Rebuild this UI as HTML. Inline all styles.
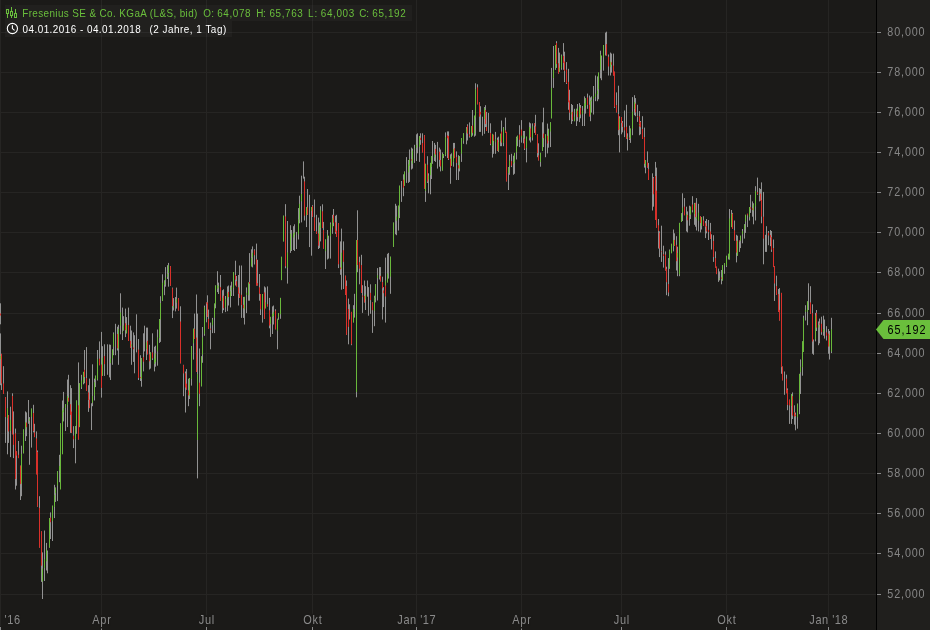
<!DOCTYPE html>
<html><head><meta charset="utf-8"><style>
html,body{margin:0;padding:0;background:#1b1a18;width:930px;height:630px;overflow:hidden}
svg{display:block}
text{font-family:"Liberation Sans",Arial,sans-serif;white-space:pre}
.xl text{font-size:12px;fill:#8a8a8a;stroke:#1b1a18;stroke-width:3px;paint-order:stroke;stroke-linejoin:round}
.yl text{font-size:12px;fill:#868686}
.leg text{font-size:11px}
</style></head><body>
<svg width="930" height="630" viewBox="0 0 930 630">
<rect width="930" height="630" fill="#1b1a18"/>
<rect x="877" y="0" width="53" height="630" fill="#201f1d"/>
<g><line x1="0" y1="32.5" x2="876" y2="32.5" stroke="#262523"/>
<line x1="0" y1="72.5" x2="876" y2="72.5" stroke="#262523"/>
<line x1="0" y1="112.5" x2="876" y2="112.5" stroke="#262523"/>
<line x1="0" y1="152.5" x2="876" y2="152.5" stroke="#262523"/>
<line x1="0" y1="192.5" x2="876" y2="192.5" stroke="#262523"/>
<line x1="0" y1="232.5" x2="876" y2="232.5" stroke="#262523"/>
<line x1="0" y1="272.5" x2="876" y2="272.5" stroke="#262523"/>
<line x1="0" y1="313.5" x2="876" y2="313.5" stroke="#262523"/>
<line x1="0" y1="353.5" x2="876" y2="353.5" stroke="#262523"/>
<line x1="0" y1="393.5" x2="876" y2="393.5" stroke="#262523"/>
<line x1="0" y1="433.5" x2="876" y2="433.5" stroke="#262523"/>
<line x1="0" y1="473.5" x2="876" y2="473.5" stroke="#262523"/>
<line x1="0" y1="513.5" x2="876" y2="513.5" stroke="#262523"/>
<line x1="0" y1="553.5" x2="876" y2="553.5" stroke="#262523"/>
<line x1="0" y1="594.5" x2="876" y2="594.5" stroke="#262523"/>
<line x1="0.5" y1="0" x2="0.5" y2="626" stroke="#262523"/>
<line x1="101.5" y1="0" x2="101.5" y2="626" stroke="#262523"/>
<line x1="206.5" y1="0" x2="206.5" y2="626" stroke="#262523"/>
<line x1="312.5" y1="0" x2="312.5" y2="626" stroke="#262523"/>
<line x1="416.5" y1="0" x2="416.5" y2="626" stroke="#262523"/>
<line x1="521.5" y1="0" x2="521.5" y2="626" stroke="#262523"/>
<line x1="621.5" y1="0" x2="621.5" y2="626" stroke="#262523"/>
<line x1="726.5" y1="0" x2="726.5" y2="626" stroke="#262523"/>
<line x1="828.5" y1="0" x2="828.5" y2="626" stroke="#262523"/></g>
<g><line x1="0.5" y1="303.3" x2="0.5" y2="324.3" stroke="#929292"/>
<line x1="0.5" y1="333.4" x2="0.5" y2="385.2" stroke="#929292"/>
<line x1="1.5" y1="353.8" x2="1.5" y2="390.0" stroke="#929292"/>
<line x1="3.5" y1="366.2" x2="3.5" y2="394.0" stroke="#929292"/>
<line x1="5.5" y1="397.1" x2="5.5" y2="442.9" stroke="#929292"/>
<line x1="7.5" y1="391.4" x2="7.5" y2="454.3" stroke="#929292"/>
<line x1="8.5" y1="415.2" x2="8.5" y2="442.9" stroke="#929292"/>
<line x1="10.5" y1="406.7" x2="10.5" y2="457.1" stroke="#929292"/>
<line x1="12.5" y1="393.3" x2="12.5" y2="434.3" stroke="#929292"/>
<line x1="13.5" y1="411.4" x2="13.5" y2="458.1" stroke="#929292"/>
<line x1="15.5" y1="428.6" x2="15.5" y2="489.5" stroke="#929292"/>
<line x1="16.5" y1="451.4" x2="16.5" y2="485.7" stroke="#929292"/>
<line x1="18.5" y1="441.0" x2="18.5" y2="458.1" stroke="#929292"/>
<line x1="20.5" y1="465.7" x2="20.5" y2="500.0" stroke="#929292"/>
<line x1="21.5" y1="445.7" x2="21.5" y2="496.2" stroke="#929292"/>
<line x1="23.5" y1="429.5" x2="23.5" y2="453.3" stroke="#929292"/>
<line x1="25.5" y1="411.4" x2="25.5" y2="441.0" stroke="#929292"/>
<line x1="26.5" y1="412.4" x2="26.5" y2="436.2" stroke="#929292"/>
<line x1="28.5" y1="400.0" x2="28.5" y2="423.8" stroke="#929292"/>
<line x1="29.5" y1="417.1" x2="29.5" y2="464.8" stroke="#929292"/>
<line x1="31.5" y1="408.6" x2="31.5" y2="447.6" stroke="#929292"/>
<line x1="33.5" y1="404.8" x2="33.5" y2="432.4" stroke="#929292"/>
<line x1="34.5" y1="423.8" x2="34.5" y2="437.1" stroke="#929292"/>
<line x1="36.5" y1="431.4" x2="36.5" y2="474.3" stroke="#929292"/>
<line x1="37.5" y1="450.5" x2="37.5" y2="506.7" stroke="#929292"/>
<line x1="39.5" y1="496.2" x2="39.5" y2="547.6" stroke="#929292"/>
<line x1="41.5" y1="531.4" x2="41.5" y2="581.9" stroke="#929292"/>
<line x1="42.5" y1="552.4" x2="42.5" y2="599.0" stroke="#929292"/>
<line x1="44.5" y1="530.5" x2="44.5" y2="581.0" stroke="#929292"/>
<line x1="46.5" y1="542.9" x2="46.5" y2="570.5" stroke="#929292"/>
<line x1="47.5" y1="550.5" x2="47.5" y2="573.3" stroke="#929292"/>
<line x1="49.5" y1="518.1" x2="49.5" y2="547.6" stroke="#929292"/>
<line x1="50.5" y1="512.4" x2="50.5" y2="539.0" stroke="#929292"/>
<line x1="52.5" y1="505.7" x2="52.5" y2="541.0" stroke="#929292"/>
<line x1="54.5" y1="484.8" x2="54.5" y2="518.1" stroke="#929292"/>
<line x1="55.5" y1="487.6" x2="55.5" y2="501.9" stroke="#929292"/>
<line x1="57.5" y1="471.2" x2="57.5" y2="501.1" stroke="#929292"/>
<line x1="59.5" y1="454.8" x2="59.5" y2="482.2" stroke="#929292"/>
<line x1="60.5" y1="423.3" x2="60.5" y2="463.3" stroke="#929292"/>
<line x1="62.5" y1="400.5" x2="62.5" y2="425.2" stroke="#929292"/>
<line x1="63.5" y1="391.9" x2="63.5" y2="421.4" stroke="#929292"/>
<line x1="65.5" y1="404.3" x2="65.5" y2="431.0" stroke="#929292"/>
<line x1="67.5" y1="379.5" x2="67.5" y2="427.1" stroke="#929292"/>
<line x1="68.5" y1="374.8" x2="68.5" y2="401.4" stroke="#929292"/>
<line x1="70.5" y1="385.2" x2="70.5" y2="432.9" stroke="#929292"/>
<line x1="71.5" y1="388.1" x2="71.5" y2="432.9" stroke="#929292"/>
<line x1="73.5" y1="426.2" x2="73.5" y2="448.1" stroke="#929292"/>
<line x1="75.5" y1="426.2" x2="75.5" y2="463.3" stroke="#929292"/>
<line x1="76.5" y1="400.5" x2="76.5" y2="433.8" stroke="#929292"/>
<line x1="78.5" y1="362.4" x2="78.5" y2="439.5" stroke="#929292"/>
<line x1="79.5" y1="383.3" x2="79.5" y2="427.1" stroke="#929292"/>
<line x1="81.5" y1="374.8" x2="81.5" y2="389.0" stroke="#929292"/>
<line x1="83.5" y1="371.9" x2="83.5" y2="384.3" stroke="#929292"/>
<line x1="84.5" y1="350.0" x2="84.5" y2="383.3" stroke="#929292"/>
<line x1="86.5" y1="347.1" x2="86.5" y2="391.0" stroke="#929292"/>
<line x1="88.5" y1="385.2" x2="88.5" y2="411.9" stroke="#929292"/>
<line x1="89.5" y1="378.6" x2="89.5" y2="408.1" stroke="#929292"/>
<line x1="91.5" y1="403.3" x2="91.5" y2="430.0" stroke="#929292"/>
<line x1="92.5" y1="364.3" x2="92.5" y2="406.2" stroke="#929292"/>
<line x1="94.5" y1="378.6" x2="94.5" y2="400.5" stroke="#929292"/>
<line x1="95.5" y1="375.7" x2="95.5" y2="387.1" stroke="#929292"/>
<line x1="97.5" y1="350.0" x2="97.5" y2="380.5" stroke="#929292"/>
<line x1="99.5" y1="341.4" x2="99.5" y2="365.2" stroke="#929292"/>
<line x1="101.5" y1="331.9" x2="101.5" y2="397.6" stroke="#929292"/>
<line x1="102.5" y1="346.2" x2="102.5" y2="375.7" stroke="#929292"/>
<line x1="104.5" y1="345.2" x2="104.5" y2="375.7" stroke="#929292"/>
<line x1="104.5" y1="344.3" x2="104.5" y2="375.7" stroke="#929292"/>
<line x1="107.5" y1="344.3" x2="107.5" y2="374.8" stroke="#929292"/>
<line x1="109.5" y1="344.5" x2="109.5" y2="377.4" stroke="#929292"/>
<line x1="110.5" y1="344.8" x2="110.5" y2="380.0" stroke="#929292"/>
<line x1="112.5" y1="349.5" x2="112.5" y2="364.8" stroke="#929292"/>
<line x1="113.5" y1="332.4" x2="113.5" y2="355.2" stroke="#929292"/>
<line x1="115.5" y1="323.8" x2="115.5" y2="355.2" stroke="#929292"/>
<line x1="117.5" y1="326.7" x2="117.5" y2="350.5" stroke="#929292"/>
<line x1="118.5" y1="324.8" x2="118.5" y2="364.8" stroke="#929292"/>
<line x1="120.5" y1="293.3" x2="120.5" y2="334.3" stroke="#929292"/>
<line x1="122.5" y1="307.6" x2="122.5" y2="340.0" stroke="#929292"/>
<line x1="123.5" y1="316.2" x2="123.5" y2="330.5" stroke="#929292"/>
<line x1="125.5" y1="308.6" x2="125.5" y2="337.1" stroke="#929292"/>
<line x1="126.5" y1="317.1" x2="126.5" y2="333.3" stroke="#929292"/>
<line x1="128.5" y1="307.6" x2="128.5" y2="341.0" stroke="#929292"/>
<line x1="130.5" y1="325.7" x2="130.5" y2="347.6" stroke="#929292"/>
<line x1="131.5" y1="330.5" x2="131.5" y2="364.8" stroke="#929292"/>
<line x1="133.5" y1="332.4" x2="133.5" y2="361.9" stroke="#929292"/>
<line x1="134.5" y1="335.2" x2="134.5" y2="373.3" stroke="#929292"/>
<line x1="136.5" y1="314.3" x2="136.5" y2="352.4" stroke="#929292"/>
<line x1="138.5" y1="339.0" x2="138.5" y2="380.0" stroke="#929292"/>
<line x1="140.5" y1="355.2" x2="140.5" y2="381.0" stroke="#929292"/>
<line x1="141.5" y1="358.1" x2="141.5" y2="386.7" stroke="#929292"/>
<line x1="143.5" y1="333.3" x2="143.5" y2="371.4" stroke="#929292"/>
<line x1="144.5" y1="325.7" x2="144.5" y2="351.4" stroke="#929292"/>
<line x1="146.5" y1="327.6" x2="146.5" y2="360.0" stroke="#929292"/>
<line x1="147.5" y1="327.6" x2="147.5" y2="354.3" stroke="#929292"/>
<line x1="149.5" y1="344.8" x2="149.5" y2="369.5" stroke="#929292"/>
<line x1="150.5" y1="352.4" x2="150.5" y2="368.6" stroke="#929292"/>
<line x1="152.5" y1="333.3" x2="152.5" y2="360.0" stroke="#929292"/>
<line x1="154.5" y1="346.7" x2="154.5" y2="371.4" stroke="#929292"/>
<line x1="155.5" y1="345.7" x2="155.5" y2="366.7" stroke="#929292"/>
<line x1="157.5" y1="329.5" x2="157.5" y2="365.7" stroke="#929292"/>
<line x1="159.5" y1="319.0" x2="159.5" y2="342.9" stroke="#929292"/>
<line x1="160.5" y1="296.2" x2="160.5" y2="341.9" stroke="#929292"/>
<line x1="162.5" y1="274.3" x2="162.5" y2="301.0" stroke="#929292"/>
<line x1="164.5" y1="280.5" x2="164.5" y2="295.2" stroke="#929292"/>
<line x1="165.5" y1="267.1" x2="165.5" y2="286.7" stroke="#929292"/>
<line x1="167.5" y1="265.2" x2="167.5" y2="279.0" stroke="#929292"/>
<line x1="168.5" y1="262.9" x2="168.5" y2="286.7" stroke="#929292"/>
<line x1="170.5" y1="266.2" x2="170.5" y2="285.7" stroke="#929292"/>
<line x1="172.5" y1="287.6" x2="172.5" y2="318.1" stroke="#929292"/>
<line x1="173.5" y1="298.1" x2="173.5" y2="310.5" stroke="#929292"/>
<line x1="175.5" y1="297.1" x2="175.5" y2="311.4" stroke="#929292"/>
<line x1="176.5" y1="287.6" x2="176.5" y2="308.6" stroke="#929292"/>
<line x1="178.5" y1="298.1" x2="178.5" y2="310.5" stroke="#929292"/>
<line x1="180.5" y1="306.7" x2="180.5" y2="361.9" stroke="#929292"/>
<line x1="180.5" y1="306.4" x2="180.5" y2="363.3" stroke="#929292"/>
<line x1="183.5" y1="364.8" x2="183.5" y2="396.2" stroke="#929292"/>
<line x1="185.5" y1="371.5" x2="185.5" y2="412.5" stroke="#929292"/>
<line x1="186.5" y1="369.0" x2="186.5" y2="389.5" stroke="#929292"/>
<line x1="188.5" y1="378.7" x2="188.5" y2="406.2" stroke="#929292"/>
<line x1="189.5" y1="378.0" x2="189.5" y2="399.0" stroke="#929292"/>
<line x1="191.5" y1="346.0" x2="191.5" y2="385.6" stroke="#929292"/>
<line x1="193.5" y1="328.7" x2="193.5" y2="359.6" stroke="#929292"/>
<line x1="194.5" y1="313.6" x2="194.5" y2="339.0" stroke="#929292"/>
<line x1="196.5" y1="294.5" x2="196.5" y2="372.0" stroke="#929292"/>
<line x1="197.5" y1="313.6" x2="197.5" y2="478.4" stroke="#929292"/>
<line x1="199.5" y1="348.5" x2="199.5" y2="406.2" stroke="#929292"/>
<line x1="201.5" y1="356.4" x2="201.5" y2="386.3" stroke="#929292"/>
<line x1="202.5" y1="327.0" x2="202.5" y2="362.8" stroke="#929292"/>
<line x1="204.5" y1="305.6" x2="204.5" y2="335.8" stroke="#929292"/>
<line x1="206.5" y1="302.5" x2="206.5" y2="322.3" stroke="#929292"/>
<line x1="207.5" y1="295.3" x2="207.5" y2="316.7" stroke="#929292"/>
<line x1="208.5" y1="309.6" x2="208.5" y2="328.7" stroke="#929292"/>
<line x1="210.5" y1="322.6" x2="210.5" y2="349.3" stroke="#929292"/>
<line x1="212.5" y1="317.9" x2="212.5" y2="333.1" stroke="#929292"/>
<line x1="214.5" y1="303.6" x2="214.5" y2="333.1" stroke="#929292"/>
<line x1="215.5" y1="285.5" x2="215.5" y2="308.3" stroke="#929292"/>
<line x1="217.5" y1="271.2" x2="217.5" y2="292.1" stroke="#929292"/>
<line x1="218.5" y1="282.6" x2="218.5" y2="294.0" stroke="#929292"/>
<line x1="220.5" y1="275.0" x2="220.5" y2="300.7" stroke="#929292"/>
<line x1="222.5" y1="290.2" x2="222.5" y2="313.1" stroke="#929292"/>
<line x1="223.5" y1="289.3" x2="223.5" y2="310.2" stroke="#929292"/>
<line x1="225.5" y1="296.0" x2="225.5" y2="312.1" stroke="#929292"/>
<line x1="227.5" y1="286.4" x2="227.5" y2="311.2" stroke="#929292"/>
<line x1="228.5" y1="285.5" x2="228.5" y2="305.5" stroke="#929292"/>
<line x1="230.5" y1="285.5" x2="230.5" y2="307.4" stroke="#929292"/>
<line x1="231.5" y1="281.7" x2="231.5" y2="296.0" stroke="#929292"/>
<line x1="233.5" y1="272.1" x2="233.5" y2="296.0" stroke="#929292"/>
<line x1="235.5" y1="260.7" x2="235.5" y2="285.5" stroke="#929292"/>
<line x1="236.5" y1="276.0" x2="236.5" y2="286.4" stroke="#929292"/>
<line x1="238.5" y1="275.0" x2="238.5" y2="305.5" stroke="#929292"/>
<line x1="239.5" y1="265.5" x2="239.5" y2="297.9" stroke="#929292"/>
<line x1="241.5" y1="265.5" x2="241.5" y2="317.9" stroke="#929292"/>
<line x1="243.5" y1="296.9" x2="243.5" y2="317.9" stroke="#929292"/>
<line x1="244.5" y1="296.9" x2="244.5" y2="324.5" stroke="#929292"/>
<line x1="246.5" y1="287.4" x2="246.5" y2="313.1" stroke="#929292"/>
<line x1="248.5" y1="282.6" x2="248.5" y2="300.7" stroke="#929292"/>
<line x1="249.5" y1="253.1" x2="249.5" y2="300.7" stroke="#929292"/>
<line x1="251.5" y1="249.3" x2="251.5" y2="266.4" stroke="#929292"/>
<line x1="252.5" y1="246.4" x2="252.5" y2="267.4" stroke="#929292"/>
<line x1="254.5" y1="249.3" x2="254.5" y2="264.5" stroke="#929292"/>
<line x1="256.5" y1="243.6" x2="256.5" y2="285.5" stroke="#929292"/>
<line x1="257.5" y1="259.8" x2="257.5" y2="285.5" stroke="#929292"/>
<line x1="259.5" y1="274.0" x2="259.5" y2="300.7" stroke="#929292"/>
<line x1="260.5" y1="294.0" x2="260.5" y2="315.0" stroke="#929292"/>
<line x1="262.5" y1="294.0" x2="262.5" y2="322.6" stroke="#929292"/>
<line x1="264.5" y1="286.4" x2="264.5" y2="318.8" stroke="#929292"/>
<line x1="265.5" y1="287.4" x2="265.5" y2="308.3" stroke="#929292"/>
<line x1="267.5" y1="286.4" x2="267.5" y2="306.4" stroke="#929292"/>
<line x1="269.5" y1="297.9" x2="269.5" y2="328.3" stroke="#929292"/>
<line x1="270.5" y1="316.9" x2="270.5" y2="336.9" stroke="#929292"/>
<line x1="272.5" y1="306.4" x2="272.5" y2="334.0" stroke="#929292"/>
<line x1="273.5" y1="305.5" x2="273.5" y2="324.5" stroke="#929292"/>
<line x1="275.5" y1="309.3" x2="275.5" y2="329.3" stroke="#929292"/>
<line x1="277.5" y1="318.8" x2="277.5" y2="349.3" stroke="#929292"/>
<line x1="278.5" y1="313.1" x2="278.5" y2="319.8" stroke="#929292"/>
<line x1="280.5" y1="297.9" x2="280.5" y2="318.8" stroke="#929292"/>
<line x1="281.5" y1="256.8" x2="281.5" y2="280.1" stroke="#929292"/>
<line x1="283.5" y1="215.7" x2="283.5" y2="241.4" stroke="#929292"/>
<line x1="285.5" y1="204.3" x2="285.5" y2="230.0" stroke="#929292"/>
<line x1="285.5" y1="204.5" x2="285.5" y2="268.3" stroke="#929292"/>
<line x1="287.5" y1="221.0" x2="287.5" y2="283.6" stroke="#929292"/>
<line x1="290.5" y1="225.2" x2="290.5" y2="252.9" stroke="#929292"/>
<line x1="291.5" y1="230.0" x2="291.5" y2="251.0" stroke="#929292"/>
<line x1="293.5" y1="226.2" x2="293.5" y2="250.0" stroke="#929292"/>
<line x1="294.5" y1="224.3" x2="294.5" y2="251.0" stroke="#929292"/>
<line x1="296.5" y1="231.9" x2="296.5" y2="249.0" stroke="#929292"/>
<line x1="298.5" y1="208.1" x2="298.5" y2="239.5" stroke="#929292"/>
<line x1="299.5" y1="195.7" x2="299.5" y2="223.3" stroke="#929292"/>
<line x1="301.5" y1="175.7" x2="301.5" y2="222.4" stroke="#929292"/>
<line x1="303.5" y1="161.4" x2="303.5" y2="178.6" stroke="#929292"/>
<line x1="304.5" y1="176.7" x2="304.5" y2="220.5" stroke="#929292"/>
<line x1="306.5" y1="207.1" x2="306.5" y2="227.1" stroke="#929292"/>
<line x1="307.5" y1="189.0" x2="307.5" y2="214.8" stroke="#929292"/>
<line x1="309.5" y1="194.8" x2="309.5" y2="247.1" stroke="#929292"/>
<line x1="311.5" y1="207.1" x2="311.5" y2="255.7" stroke="#929292"/>
<line x1="312.5" y1="205.2" x2="312.5" y2="216.7" stroke="#929292"/>
<line x1="314.5" y1="199.5" x2="314.5" y2="231.0" stroke="#929292"/>
<line x1="316.5" y1="214.8" x2="316.5" y2="233.8" stroke="#929292"/>
<line x1="318.5" y1="217.6" x2="318.5" y2="249.0" stroke="#929292"/>
<line x1="319.5" y1="222.4" x2="319.5" y2="248.1" stroke="#929292"/>
<line x1="320.5" y1="206.2" x2="320.5" y2="241.4" stroke="#929292"/>
<line x1="322.5" y1="204.3" x2="322.5" y2="228.1" stroke="#929292"/>
<line x1="323.5" y1="221.9" x2="323.5" y2="248.6" stroke="#929292"/>
<line x1="325.5" y1="239.5" x2="325.5" y2="269.0" stroke="#929292"/>
<line x1="327.5" y1="230.0" x2="327.5" y2="259.5" stroke="#929292"/>
<line x1="328.5" y1="235.7" x2="328.5" y2="258.6" stroke="#929292"/>
<line x1="330.5" y1="222.4" x2="330.5" y2="258.6" stroke="#929292"/>
<line x1="332.5" y1="214.8" x2="332.5" y2="233.8" stroke="#929292"/>
<line x1="333.5" y1="209.0" x2="333.5" y2="226.2" stroke="#929292"/>
<line x1="335.5" y1="215.7" x2="335.5" y2="233.8" stroke="#929292"/>
<line x1="336.5" y1="214.8" x2="336.5" y2="236.7" stroke="#929292"/>
<line x1="338.5" y1="223.3" x2="338.5" y2="268.1" stroke="#929292"/>
<line x1="340.5" y1="241.4" x2="340.5" y2="274.8" stroke="#929292"/>
<line x1="341.5" y1="228.6" x2="341.5" y2="289.7" stroke="#929292"/>
<line x1="343.5" y1="241.4" x2="343.5" y2="289.0" stroke="#929292"/>
<line x1="345.5" y1="275.7" x2="345.5" y2="294.8" stroke="#929292"/>
<line x1="346.5" y1="280.5" x2="346.5" y2="334.8" stroke="#929292"/>
<line x1="348.5" y1="298.6" x2="348.5" y2="344.3" stroke="#929292"/>
<line x1="349.5" y1="304.3" x2="349.5" y2="319.5" stroke="#929292"/>
<line x1="351.5" y1="311.9" x2="351.5" y2="345.2" stroke="#929292"/>
<line x1="353.5" y1="305.2" x2="353.5" y2="322.4" stroke="#929292"/>
<line x1="354.5" y1="293.8" x2="354.5" y2="317.6" stroke="#929292"/>
<line x1="356.5" y1="240.0" x2="356.5" y2="397.3" stroke="#929292"/>
<line x1="357.5" y1="210.3" x2="357.5" y2="272.2" stroke="#929292"/>
<line x1="359.5" y1="256.7" x2="359.5" y2="284.3" stroke="#929292"/>
<line x1="361.5" y1="254.8" x2="361.5" y2="292.9" stroke="#929292"/>
<line x1="362.5" y1="285.2" x2="362.5" y2="312.9" stroke="#929292"/>
<line x1="364.5" y1="280.5" x2="364.5" y2="302.4" stroke="#929292"/>
<line x1="365.5" y1="286.2" x2="365.5" y2="310.0" stroke="#929292"/>
<line x1="367.5" y1="280.5" x2="367.5" y2="296.7" stroke="#929292"/>
<line x1="368.5" y1="287.1" x2="368.5" y2="315.7" stroke="#929292"/>
<line x1="370.5" y1="284.3" x2="370.5" y2="313.8" stroke="#929292"/>
<line x1="372.5" y1="302.4" x2="372.5" y2="332.9" stroke="#929292"/>
<line x1="374.5" y1="295.7" x2="374.5" y2="326.2" stroke="#929292"/>
<line x1="375.5" y1="284.3" x2="375.5" y2="302.4" stroke="#929292"/>
<line x1="377.5" y1="268.1" x2="377.5" y2="300.5" stroke="#929292"/>
<line x1="379.5" y1="267.1" x2="379.5" y2="279.5" stroke="#929292"/>
<line x1="380.5" y1="267.1" x2="380.5" y2="281.4" stroke="#929292"/>
<line x1="382.5" y1="276.7" x2="382.5" y2="319.5" stroke="#929292"/>
<line x1="383.5" y1="287.1" x2="383.5" y2="307.1" stroke="#929292"/>
<line x1="385.5" y1="272.4" x2="385.5" y2="322.3" stroke="#929292"/>
<line x1="385.5" y1="257.6" x2="385.5" y2="322.4" stroke="#929292"/>
<line x1="387.5" y1="253.8" x2="387.5" y2="282.4" stroke="#929292"/>
<line x1="388.5" y1="252.9" x2="388.5" y2="278.6" stroke="#929292"/>
<line x1="390.5" y1="256.7" x2="390.5" y2="293.8" stroke="#929292"/>
<line x1="393.5" y1="222.6" x2="393.5" y2="246.8" stroke="#929292"/>
<line x1="395.5" y1="203.8" x2="395.5" y2="234.3" stroke="#929292"/>
<line x1="396.5" y1="205.7" x2="396.5" y2="235.2" stroke="#929292"/>
<line x1="398.5" y1="205.7" x2="398.5" y2="230.5" stroke="#929292"/>
<line x1="399.5" y1="185.7" x2="399.5" y2="218.1" stroke="#929292"/>
<line x1="401.5" y1="181.0" x2="401.5" y2="201.9" stroke="#929292"/>
<line x1="403.5" y1="174.3" x2="403.5" y2="196.2" stroke="#929292"/>
<line x1="404.5" y1="171.4" x2="404.5" y2="185.7" stroke="#929292"/>
<line x1="406.5" y1="157.1" x2="406.5" y2="182.9" stroke="#929292"/>
<line x1="408.5" y1="160.0" x2="408.5" y2="182.9" stroke="#929292"/>
<line x1="409.5" y1="149.5" x2="409.5" y2="181.9" stroke="#929292"/>
<line x1="411.5" y1="147.6" x2="411.5" y2="169.5" stroke="#929292"/>
<line x1="412.5" y1="148.6" x2="412.5" y2="168.6" stroke="#929292"/>
<line x1="414.5" y1="144.8" x2="414.5" y2="162.9" stroke="#929292"/>
<line x1="416.5" y1="134.3" x2="416.5" y2="161.0" stroke="#929292"/>
<line x1="417.5" y1="133.3" x2="417.5" y2="153.3" stroke="#929292"/>
<line x1="419.5" y1="136.2" x2="419.5" y2="161.9" stroke="#929292"/>
<line x1="420.5" y1="133.3" x2="420.5" y2="144.8" stroke="#929292"/>
<line x1="422.5" y1="133.3" x2="422.5" y2="152.4" stroke="#929292"/>
<line x1="424.5" y1="135.2" x2="424.5" y2="188.6" stroke="#929292"/>
<line x1="425.5" y1="163.8" x2="425.5" y2="201.9" stroke="#929292"/>
<line x1="427.5" y1="156.2" x2="427.5" y2="182.9" stroke="#929292"/>
<line x1="428.5" y1="173.3" x2="428.5" y2="193.3" stroke="#929292"/>
<line x1="430.5" y1="162.9" x2="430.5" y2="194.3" stroke="#929292"/>
<line x1="431.5" y1="156.2" x2="431.5" y2="179.0" stroke="#929292"/>
<line x1="432.5" y1="141.0" x2="432.5" y2="163.8" stroke="#929292"/>
<line x1="434.5" y1="142.9" x2="434.5" y2="161.0" stroke="#929292"/>
<line x1="435.5" y1="144.8" x2="435.5" y2="161.9" stroke="#929292"/>
<line x1="437.5" y1="141.9" x2="437.5" y2="168.6" stroke="#929292"/>
<line x1="439.5" y1="147.6" x2="439.5" y2="166.7" stroke="#929292"/>
<line x1="440.5" y1="149.5" x2="440.5" y2="171.4" stroke="#929292"/>
<line x1="442.5" y1="152.4" x2="442.5" y2="170.5" stroke="#929292"/>
<line x1="443.5" y1="154.3" x2="443.5" y2="158.1" stroke="#929292"/>
<line x1="445.5" y1="132.4" x2="445.5" y2="156.2" stroke="#929292"/>
<line x1="447.5" y1="131.4" x2="447.5" y2="158.1" stroke="#929292"/>
<line x1="448.5" y1="131.4" x2="448.5" y2="160.0" stroke="#929292"/>
<line x1="450.5" y1="154.3" x2="450.5" y2="183.8" stroke="#929292"/>
<line x1="451.5" y1="153.3" x2="451.5" y2="165.7" stroke="#929292"/>
<line x1="453.5" y1="142.9" x2="453.5" y2="166.7" stroke="#929292"/>
<line x1="454.5" y1="142.9" x2="454.5" y2="158.1" stroke="#929292"/>
<line x1="456.5" y1="151.4" x2="456.5" y2="180.0" stroke="#929292"/>
<line x1="458.5" y1="155.2" x2="458.5" y2="180.0" stroke="#929292"/>
<line x1="459.5" y1="156.2" x2="459.5" y2="171.4" stroke="#929292"/>
<line x1="461.5" y1="138.1" x2="461.5" y2="161.9" stroke="#929292"/>
<line x1="463.5" y1="133.3" x2="463.5" y2="143.8" stroke="#929292"/>
<line x1="466.5" y1="127.1" x2="466.5" y2="144.3" stroke="#929292"/>
<line x1="467.5" y1="124.3" x2="467.5" y2="140.5" stroke="#929292"/>
<line x1="469.5" y1="122.4" x2="469.5" y2="137.6" stroke="#929292"/>
<line x1="471.5" y1="126.2" x2="471.5" y2="136.7" stroke="#929292"/>
<line x1="472.5" y1="110.0" x2="472.5" y2="135.7" stroke="#929292"/>
<line x1="474.5" y1="115.7" x2="474.5" y2="136.7" stroke="#929292"/>
<line x1="475.5" y1="83.3" x2="475.5" y2="135.7" stroke="#929292"/>
<line x1="477.5" y1="84.3" x2="477.5" y2="104.3" stroke="#929292"/>
<line x1="479.5" y1="102.4" x2="479.5" y2="131.9" stroke="#929292"/>
<line x1="480.5" y1="106.2" x2="480.5" y2="131.9" stroke="#929292"/>
<line x1="482.5" y1="116.7" x2="482.5" y2="135.7" stroke="#929292"/>
<line x1="484.5" y1="107.1" x2="484.5" y2="133.8" stroke="#929292"/>
<line x1="485.5" y1="105.2" x2="485.5" y2="127.1" stroke="#929292"/>
<line x1="486.5" y1="111.9" x2="486.5" y2="131.0" stroke="#929292"/>
<line x1="488.5" y1="112.9" x2="488.5" y2="132.9" stroke="#929292"/>
<line x1="490.5" y1="123.3" x2="490.5" y2="145.2" stroke="#929292"/>
<line x1="492.5" y1="133.8" x2="492.5" y2="157.6" stroke="#929292"/>
<line x1="493.5" y1="134.8" x2="493.5" y2="153.8" stroke="#929292"/>
<line x1="495.5" y1="131.9" x2="495.5" y2="153.8" stroke="#929292"/>
<line x1="497.5" y1="137.6" x2="497.5" y2="151.0" stroke="#929292"/>
<line x1="498.5" y1="136.7" x2="498.5" y2="151.9" stroke="#929292"/>
<line x1="500.5" y1="133.8" x2="500.5" y2="146.2" stroke="#929292"/>
<line x1="501.5" y1="120.5" x2="501.5" y2="146.2" stroke="#929292"/>
<line x1="503.5" y1="127.1" x2="503.5" y2="146.2" stroke="#929292"/>
<line x1="505.5" y1="117.6" x2="505.5" y2="132.9" stroke="#929292"/>
<line x1="506.5" y1="131.9" x2="506.5" y2="181.4" stroke="#929292"/>
<line x1="508.5" y1="167.1" x2="508.5" y2="190.0" stroke="#929292"/>
<line x1="509.5" y1="154.8" x2="509.5" y2="174.8" stroke="#929292"/>
<line x1="511.5" y1="153.8" x2="511.5" y2="167.1" stroke="#929292"/>
<line x1="513.5" y1="155.7" x2="513.5" y2="174.8" stroke="#929292"/>
<line x1="514.5" y1="152.9" x2="514.5" y2="173.8" stroke="#929292"/>
<line x1="516.5" y1="136.7" x2="516.5" y2="159.5" stroke="#929292"/>
<line x1="517.5" y1="135.7" x2="517.5" y2="146.2" stroke="#929292"/>
<line x1="519.5" y1="125.2" x2="519.5" y2="147.1" stroke="#929292"/>
<line x1="521.5" y1="120.2" x2="521.5" y2="142.7" stroke="#929292"/>
<line x1="521.5" y1="120.5" x2="521.5" y2="135.7" stroke="#929292"/>
<line x1="523.5" y1="131.0" x2="523.5" y2="143.3" stroke="#929292"/>
<line x1="524.5" y1="131.0" x2="524.5" y2="150.0" stroke="#929292"/>
<line x1="526.5" y1="136.7" x2="526.5" y2="162.4" stroke="#929292"/>
<line x1="529.5" y1="122.4" x2="529.5" y2="140.5" stroke="#929292"/>
<line x1="530.5" y1="123.3" x2="530.5" y2="142.4" stroke="#929292"/>
<line x1="532.5" y1="123.3" x2="532.5" y2="140.5" stroke="#929292"/>
<line x1="534.5" y1="123.3" x2="534.5" y2="132.9" stroke="#929292"/>
<line x1="535.5" y1="114.8" x2="535.5" y2="134.8" stroke="#929292"/>
<line x1="537.5" y1="134.4" x2="537.5" y2="157.2" stroke="#929292"/>
<line x1="538.5" y1="143.3" x2="538.5" y2="160.4" stroke="#929292"/>
<line x1="540.5" y1="152.8" x2="540.5" y2="166.7" stroke="#929292"/>
<line x1="542.5" y1="122.3" x2="542.5" y2="150.9" stroke="#929292"/>
<line x1="543.5" y1="107.7" x2="543.5" y2="147.1" stroke="#929292"/>
<line x1="545.5" y1="134.4" x2="545.5" y2="157.2" stroke="#929292"/>
<line x1="547.5" y1="123.6" x2="547.5" y2="153.4" stroke="#929292"/>
<line x1="548.5" y1="128.7" x2="548.5" y2="147.7" stroke="#929292"/>
<line x1="550.5" y1="122.3" x2="550.5" y2="147.1" stroke="#929292"/>
<line x1="551.5" y1="67.9" x2="551.5" y2="118.3" stroke="#929292"/>
<line x1="553.5" y1="46.0" x2="553.5" y2="87.9" stroke="#929292"/>
<line x1="555.5" y1="45.0" x2="555.5" y2="69.8" stroke="#929292"/>
<line x1="556.5" y1="41.2" x2="556.5" y2="67.9" stroke="#929292"/>
<line x1="558.5" y1="47.9" x2="558.5" y2="73.6" stroke="#929292"/>
<line x1="559.5" y1="52.6" x2="559.5" y2="71.7" stroke="#929292"/>
<line x1="561.5" y1="54.5" x2="561.5" y2="69.8" stroke="#929292"/>
<line x1="563.5" y1="43.1" x2="563.5" y2="69.8" stroke="#929292"/>
<line x1="564.5" y1="51.7" x2="564.5" y2="82.1" stroke="#929292"/>
<line x1="566.5" y1="62.1" x2="566.5" y2="84.0" stroke="#929292"/>
<line x1="568.5" y1="68.8" x2="568.5" y2="109.8" stroke="#929292"/>
<line x1="569.5" y1="89.8" x2="569.5" y2="120.2" stroke="#929292"/>
<line x1="571.5" y1="104.0" x2="571.5" y2="124.0" stroke="#929292"/>
<line x1="572.5" y1="105.0" x2="572.5" y2="121.2" stroke="#929292"/>
<line x1="574.5" y1="108.8" x2="574.5" y2="121.2" stroke="#929292"/>
<line x1="576.5" y1="108.8" x2="576.5" y2="126.0" stroke="#929292"/>
<line x1="577.5" y1="104.0" x2="577.5" y2="121.2" stroke="#929292"/>
<line x1="579.5" y1="103.1" x2="579.5" y2="122.1" stroke="#929292"/>
<line x1="580.5" y1="105.0" x2="580.5" y2="118.3" stroke="#929292"/>
<line x1="582.5" y1="106.0" x2="582.5" y2="126.0" stroke="#929292"/>
<line x1="584.5" y1="96.4" x2="584.5" y2="126.0" stroke="#929292"/>
<line x1="585.5" y1="98.3" x2="585.5" y2="113.6" stroke="#929292"/>
<line x1="587.5" y1="93.6" x2="587.5" y2="108.8" stroke="#929292"/>
<line x1="589.5" y1="95.5" x2="589.5" y2="116.4" stroke="#929292"/>
<line x1="590.5" y1="97.4" x2="590.5" y2="121.2" stroke="#929292"/>
<line x1="591.5" y1="96.4" x2="591.5" y2="112.6" stroke="#929292"/>
<line x1="593.5" y1="86.0" x2="593.5" y2="114.5" stroke="#929292"/>
<line x1="595.5" y1="75.5" x2="595.5" y2="101.2" stroke="#929292"/>
<line x1="597.5" y1="76.4" x2="597.5" y2="101.2" stroke="#929292"/>
<line x1="598.5" y1="72.6" x2="598.5" y2="99.3" stroke="#929292"/>
<line x1="600.5" y1="50.7" x2="600.5" y2="78.3" stroke="#929292"/>
<line x1="601.5" y1="55.5" x2="601.5" y2="80.2" stroke="#929292"/>
<line x1="603.5" y1="45.0" x2="603.5" y2="70.7" stroke="#929292"/>
<line x1="605.5" y1="32.6" x2="605.5" y2="55.5" stroke="#929292"/>
<line x1="606.5" y1="31.7" x2="606.5" y2="55.5" stroke="#929292"/>
<line x1="608.5" y1="54.5" x2="608.5" y2="75.5" stroke="#929292"/>
<line x1="610.5" y1="52.6" x2="610.5" y2="75.5" stroke="#929292"/>
<line x1="611.5" y1="53.6" x2="611.5" y2="72.6" stroke="#929292"/>
<line x1="613.5" y1="53.6" x2="613.5" y2="75.5" stroke="#929292"/>
<line x1="614.5" y1="71.7" x2="614.5" y2="107.9" stroke="#929292"/>
<line x1="616.5" y1="92.4" x2="616.5" y2="112.4" stroke="#929292"/>
<line x1="618.5" y1="85.7" x2="618.5" y2="135.2" stroke="#929292"/>
<line x1="619.5" y1="116.2" x2="619.5" y2="152.4" stroke="#929292"/>
<line x1="621.5" y1="117.1" x2="621.5" y2="134.3" stroke="#929292"/>
<line x1="622.5" y1="121.0" x2="622.5" y2="132.4" stroke="#929292"/>
<line x1="624.5" y1="110.5" x2="624.5" y2="137.1" stroke="#929292"/>
<line x1="626.5" y1="104.8" x2="626.5" y2="139.0" stroke="#929292"/>
<line x1="627.5" y1="133.3" x2="627.5" y2="150.5" stroke="#929292"/>
<line x1="629.5" y1="125.7" x2="629.5" y2="140.0" stroke="#929292"/>
<line x1="630.5" y1="128.6" x2="630.5" y2="142.9" stroke="#929292"/>
<line x1="632.5" y1="97.1" x2="632.5" y2="135.2" stroke="#929292"/>
<line x1="634.5" y1="95.2" x2="634.5" y2="115.2" stroke="#929292"/>
<line x1="635.5" y1="98.1" x2="635.5" y2="116.2" stroke="#929292"/>
<line x1="637.5" y1="104.8" x2="637.5" y2="121.9" stroke="#929292"/>
<line x1="639.5" y1="111.3" x2="639.5" y2="128.6" stroke="#929292"/>
<line x1="639.5" y1="111.4" x2="639.5" y2="135.2" stroke="#929292"/>
<line x1="640.5" y1="121.0" x2="640.5" y2="134.3" stroke="#929292"/>
<line x1="642.5" y1="116.2" x2="642.5" y2="139.0" stroke="#929292"/>
<line x1="644.5" y1="127.6" x2="644.5" y2="167.6" stroke="#929292"/>
<line x1="645.5" y1="160.0" x2="645.5" y2="173.3" stroke="#929292"/>
<line x1="647.5" y1="151.4" x2="647.5" y2="167.6" stroke="#929292"/>
<line x1="648.5" y1="162.9" x2="648.5" y2="180.0" stroke="#929292"/>
<line x1="652.5" y1="173.3" x2="652.5" y2="210.5" stroke="#929292"/>
<line x1="653.5" y1="177.1" x2="653.5" y2="206.7" stroke="#929292"/>
<line x1="655.5" y1="161.9" x2="655.5" y2="220.0" stroke="#929292"/>
<line x1="656.5" y1="167.6" x2="656.5" y2="227.6" stroke="#929292"/>
<line x1="658.5" y1="219.0" x2="658.5" y2="248.6" stroke="#929292"/>
<line x1="659.5" y1="231.4" x2="659.5" y2="257.1" stroke="#929292"/>
<line x1="661.5" y1="225.7" x2="661.5" y2="261.9" stroke="#929292"/>
<line x1="663.5" y1="245.7" x2="663.5" y2="267.6" stroke="#929292"/>
<line x1="665.5" y1="251.4" x2="665.5" y2="270.5" stroke="#929292"/>
<line x1="666.5" y1="266.7" x2="666.5" y2="295.2" stroke="#929292"/>
<line x1="668.5" y1="258.1" x2="668.5" y2="296.2" stroke="#929292"/>
<line x1="669.5" y1="249.5" x2="669.5" y2="268.6" stroke="#929292"/>
<line x1="671.5" y1="243.8" x2="671.5" y2="253.3" stroke="#929292"/>
<line x1="673.5" y1="229.5" x2="673.5" y2="251.4" stroke="#929292"/>
<line x1="674.5" y1="233.3" x2="674.5" y2="245.7" stroke="#929292"/>
<line x1="676.5" y1="236.2" x2="676.5" y2="270.5" stroke="#929292"/>
<line x1="677.5" y1="246.7" x2="677.5" y2="276.2" stroke="#929292"/>
<line x1="679.5" y1="222.9" x2="679.5" y2="276.2" stroke="#929292"/>
<line x1="681.5" y1="213.3" x2="681.5" y2="221.9" stroke="#929292"/>
<line x1="682.5" y1="193.3" x2="682.5" y2="221.0" stroke="#929292"/>
<line x1="684.5" y1="198.1" x2="684.5" y2="215.2" stroke="#929292"/>
<line x1="686.5" y1="206.7" x2="686.5" y2="231.4" stroke="#929292"/>
<line x1="687.5" y1="211.4" x2="687.5" y2="232.4" stroke="#929292"/>
<line x1="689.5" y1="205.7" x2="689.5" y2="225.7" stroke="#929292"/>
<line x1="690.5" y1="206.7" x2="690.5" y2="219.0" stroke="#929292"/>
<line x1="692.5" y1="196.2" x2="692.5" y2="212.4" stroke="#929292"/>
<line x1="694.5" y1="202.9" x2="694.5" y2="224.8" stroke="#929292"/>
<line x1="695.5" y1="202.9" x2="695.5" y2="226.7" stroke="#929292"/>
<line x1="696.5" y1="198.1" x2="696.5" y2="230.5" stroke="#929292"/>
<line x1="698.5" y1="203.8" x2="698.5" y2="231.4" stroke="#929292"/>
<line x1="700.5" y1="216.2" x2="700.5" y2="232.4" stroke="#929292"/>
<line x1="701.5" y1="217.1" x2="701.5" y2="229.5" stroke="#929292"/>
<line x1="703.5" y1="216.2" x2="703.5" y2="225.7" stroke="#929292"/>
<line x1="705.5" y1="221.0" x2="705.5" y2="238.1" stroke="#929292"/>
<line x1="706.5" y1="219.0" x2="706.5" y2="233.3" stroke="#929292"/>
<line x1="708.5" y1="220.0" x2="708.5" y2="240.0" stroke="#929292"/>
<line x1="710.5" y1="222.9" x2="710.5" y2="239.0" stroke="#929292"/>
<line x1="711.5" y1="234.3" x2="711.5" y2="249.5" stroke="#929292"/>
<line x1="713.5" y1="235.2" x2="713.5" y2="261.9" stroke="#929292"/>
<line x1="715.5" y1="251.4" x2="715.5" y2="267.6" stroke="#929292"/>
<line x1="716.5" y1="266.7" x2="716.5" y2="274.1" stroke="#929292"/>
<line x1="718.5" y1="268.6" x2="718.5" y2="281.9" stroke="#929292"/>
<line x1="719.5" y1="271.4" x2="719.5" y2="280.4" stroke="#929292"/>
<line x1="721.5" y1="270.0" x2="721.5" y2="284.3" stroke="#929292"/>
<line x1="722.5" y1="265.2" x2="722.5" y2="280.5" stroke="#929292"/>
<line x1="724.5" y1="263.3" x2="724.5" y2="273.8" stroke="#929292"/>
<line x1="726.5" y1="255.7" x2="726.5" y2="267.1" stroke="#929292"/>
<line x1="728.5" y1="253.8" x2="728.5" y2="259.5" stroke="#929292"/>
<line x1="729.5" y1="209.0" x2="729.5" y2="259.5" stroke="#929292"/>
<line x1="731.5" y1="210.0" x2="731.5" y2="227.1" stroke="#929292"/>
<line x1="732.5" y1="212.9" x2="732.5" y2="229.0" stroke="#929292"/>
<line x1="734.5" y1="220.5" x2="734.5" y2="240.5" stroke="#929292"/>
<line x1="736.5" y1="234.8" x2="736.5" y2="262.4" stroke="#929292"/>
<line x1="737.5" y1="235.7" x2="737.5" y2="255.7" stroke="#929292"/>
<line x1="739.5" y1="240.5" x2="739.5" y2="251.9" stroke="#929292"/>
<line x1="740.5" y1="235.7" x2="740.5" y2="248.1" stroke="#929292"/>
<line x1="742.5" y1="229.0" x2="742.5" y2="243.3" stroke="#929292"/>
<line x1="744.5" y1="224.3" x2="744.5" y2="238.6" stroke="#929292"/>
<line x1="745.5" y1="214.8" x2="745.5" y2="232.9" stroke="#929292"/>
<line x1="747.5" y1="213.8" x2="747.5" y2="227.1" stroke="#929292"/>
<line x1="749.5" y1="207.1" x2="749.5" y2="220.5" stroke="#929292"/>
<line x1="750.5" y1="194.8" x2="750.5" y2="212.9" stroke="#929292"/>
<line x1="752.5" y1="201.4" x2="752.5" y2="216.7" stroke="#929292"/>
<line x1="753.5" y1="203.3" x2="753.5" y2="224.3" stroke="#929292"/>
<line x1="755.5" y1="186.2" x2="755.5" y2="220.5" stroke="#929292"/>
<line x1="757.5" y1="177.6" x2="757.5" y2="194.8" stroke="#929292"/>
<line x1="759.5" y1="188.1" x2="759.5" y2="201.4" stroke="#929292"/>
<line x1="760.5" y1="189.0" x2="760.5" y2="200.5" stroke="#929292"/>
<line x1="761.5" y1="182.4" x2="761.5" y2="223.3" stroke="#929292"/>
<line x1="763.5" y1="191.9" x2="763.5" y2="264.3" stroke="#929292"/>
<line x1="765.5" y1="234.8" x2="765.5" y2="251.9" stroke="#929292"/>
<line x1="766.5" y1="226.2" x2="766.5" y2="251.9" stroke="#929292"/>
<line x1="768.5" y1="231.0" x2="768.5" y2="245.2" stroke="#929292"/>
<line x1="770.5" y1="230.0" x2="770.5" y2="246.2" stroke="#929292"/>
<line x1="771.5" y1="231.0" x2="771.5" y2="251.9" stroke="#929292"/>
<line x1="773.5" y1="239.5" x2="773.5" y2="267.1" stroke="#929292"/>
<line x1="774.5" y1="266.2" x2="774.5" y2="301.0" stroke="#929292"/>
<line x1="776.5" y1="275.7" x2="776.5" y2="294.8" stroke="#929292"/>
<line x1="778.5" y1="289.0" x2="778.5" y2="311.9" stroke="#929292"/>
<line x1="779.5" y1="288.1" x2="779.5" y2="320.5" stroke="#929292"/>
<line x1="781.5" y1="292.9" x2="781.5" y2="373.8" stroke="#929292"/>
<line x1="782.5" y1="366.6" x2="782.5" y2="380.3" stroke="#929292"/>
<line x1="784.5" y1="371.5" x2="784.5" y2="394.8" stroke="#929292"/>
<line x1="786.5" y1="374.7" x2="786.5" y2="393.2" stroke="#929292"/>
<line x1="787.5" y1="388.4" x2="787.5" y2="410.2" stroke="#929292"/>
<line x1="789.5" y1="399.7" x2="789.5" y2="423.9" stroke="#929292"/>
<line x1="791.5" y1="394.0" x2="791.5" y2="423.9" stroke="#929292"/>
<line x1="792.5" y1="392.4" x2="792.5" y2="419.0" stroke="#929292"/>
<line x1="794.5" y1="405.3" x2="794.5" y2="424.7" stroke="#929292"/>
<line x1="795.5" y1="412.6" x2="795.5" y2="430.3" stroke="#929292"/>
<line x1="797.5" y1="403.7" x2="797.5" y2="428.7" stroke="#929292"/>
<line x1="799.5" y1="373.9" x2="799.5" y2="414.2" stroke="#929292"/>
<line x1="800.5" y1="359.4" x2="800.5" y2="394.0" stroke="#929292"/>
<line x1="802.5" y1="341.4" x2="802.5" y2="375.7" stroke="#929292"/>
<line x1="803.5" y1="315.7" x2="803.5" y2="351.9" stroke="#929292"/>
<line x1="805.5" y1="305.2" x2="805.5" y2="320.5" stroke="#929292"/>
<line x1="807.5" y1="301.4" x2="807.5" y2="325.2" stroke="#929292"/>
<line x1="808.5" y1="283.3" x2="808.5" y2="310.0" stroke="#929292"/>
<line x1="810.5" y1="286.2" x2="810.5" y2="313.8" stroke="#929292"/>
<line x1="812.5" y1="304.3" x2="812.5" y2="353.8" stroke="#929292"/>
<line x1="813.5" y1="339.5" x2="813.5" y2="354.8" stroke="#929292"/>
<line x1="815.5" y1="312.9" x2="815.5" y2="341.4" stroke="#929292"/>
<line x1="816.5" y1="310.0" x2="816.5" y2="331.0" stroke="#929292"/>
<line x1="818.5" y1="321.4" x2="818.5" y2="345.2" stroke="#929292"/>
<line x1="819.5" y1="318.6" x2="819.5" y2="343.3" stroke="#929292"/>
<line x1="821.5" y1="316.7" x2="821.5" y2="334.8" stroke="#929292"/>
<line x1="823.5" y1="315.7" x2="823.5" y2="335.7" stroke="#929292"/>
<line x1="824.5" y1="319.5" x2="824.5" y2="338.6" stroke="#929292"/>
<line x1="826.5" y1="326.2" x2="826.5" y2="340.5" stroke="#929292"/>
<line x1="828.5" y1="329.0" x2="828.5" y2="353.8" stroke="#929292"/>
<line x1="829.5" y1="331.0" x2="829.5" y2="359.5" stroke="#929292"/>
<line x1="831.5" y1="317.8" x2="831.5" y2="353.1" stroke="#929292"/>
<line x1="0.5" y1="356.0" x2="0.5" y2="359.3" stroke="#69b83b"/>
<line x1="1.5" y1="353.9" x2="1.5" y2="383.5" stroke="#d9302a"/>
<line x1="3.5" y1="383.4" x2="3.5" y2="394.0" stroke="#d9302a"/>
<line x1="5.5" y1="397.1" x2="5.5" y2="417.0" stroke="#d9302a"/>
<line x1="7.5" y1="408.2" x2="7.5" y2="418.2" stroke="#69b83b"/>
<line x1="8.5" y1="415.2" x2="8.5" y2="431.5" stroke="#d9302a"/>
<line x1="10.5" y1="419.8" x2="10.5" y2="430.8" stroke="#69b83b"/>
<line x1="12.5" y1="396.0" x2="12.5" y2="434.3" stroke="#d9302a"/>
<line x1="13.5" y1="434.3" x2="13.5" y2="444.9" stroke="#d9302a"/>
<line x1="15.5" y1="433.3" x2="15.5" y2="479.0" stroke="#d9302a"/>
<line x1="16.5" y1="451.4" x2="16.5" y2="455.6" stroke="#d9302a"/>
<line x1="18.5" y1="454.8" x2="18.5" y2="458.1" stroke="#d9302a"/>
<line x1="20.5" y1="465.7" x2="20.5" y2="484.1" stroke="#d9302a"/>
<line x1="21.5" y1="453.8" x2="21.5" y2="483.6" stroke="#69b83b"/>
<line x1="23.5" y1="429.5" x2="23.5" y2="453.3" stroke="#69b83b"/>
<line x1="25.5" y1="422.3" x2="25.5" y2="429.4" stroke="#69b83b"/>
<line x1="26.5" y1="422.6" x2="26.5" y2="427.2" stroke="#d9302a"/>
<line x1="29.5" y1="418.8" x2="29.5" y2="421.0" stroke="#69b83b"/>
<line x1="31.5" y1="408.6" x2="31.5" y2="416.8" stroke="#69b83b"/>
<line x1="33.5" y1="413.0" x2="33.5" y2="431.1" stroke="#d9302a"/>
<line x1="34.5" y1="432.4" x2="34.5" y2="437.1" stroke="#d9302a"/>
<line x1="36.5" y1="438.4" x2="36.5" y2="474.3" stroke="#d9302a"/>
<line x1="37.5" y1="452.0" x2="37.5" y2="506.7" stroke="#d9302a"/>
<line x1="39.5" y1="507.8" x2="39.5" y2="547.6" stroke="#d9302a"/>
<line x1="41.5" y1="531.4" x2="41.5" y2="565.7" stroke="#d9302a"/>
<line x1="42.5" y1="568.5" x2="42.5" y2="581.4" stroke="#69b83b"/>
<line x1="44.5" y1="559.3" x2="44.5" y2="568.1" stroke="#69b83b"/>
<line x1="46.5" y1="549.5" x2="46.5" y2="561.3" stroke="#69b83b"/>
<line x1="49.5" y1="518.1" x2="49.5" y2="547.6" stroke="#69b83b"/>
<line x1="50.5" y1="517.6" x2="50.5" y2="522.2" stroke="#d9302a"/>
<line x1="52.5" y1="505.7" x2="52.5" y2="521.1" stroke="#69b83b"/>
<line x1="54.5" y1="494.8" x2="54.5" y2="506.9" stroke="#69b83b"/>
<line x1="55.5" y1="487.6" x2="55.5" y2="493.3" stroke="#69b83b"/>
<line x1="57.5" y1="471.2" x2="57.5" y2="485.5" stroke="#69b83b"/>
<line x1="59.5" y1="465.9" x2="59.5" y2="470.6" stroke="#69b83b"/>
<line x1="60.5" y1="423.8" x2="60.5" y2="489.5" stroke="#69b83b"/>
<line x1="62.5" y1="410.5" x2="62.5" y2="454.3" stroke="#69b83b"/>
<line x1="63.5" y1="407.9" x2="63.5" y2="412.2" stroke="#69b83b"/>
<line x1="65.5" y1="404.3" x2="65.5" y2="407.9" stroke="#69b83b"/>
<line x1="67.5" y1="396.0" x2="67.5" y2="404.9" stroke="#69b83b"/>
<line x1="68.5" y1="397.8" x2="68.5" y2="401.4" stroke="#d9302a"/>
<line x1="70.5" y1="404.2" x2="70.5" y2="414.9" stroke="#d9302a"/>
<line x1="71.5" y1="411.6" x2="71.5" y2="432.9" stroke="#d9302a"/>
<line x1="73.5" y1="435.6" x2="73.5" y2="439.3" stroke="#d9302a"/>
<line x1="75.5" y1="426.2" x2="75.5" y2="439.2" stroke="#69b83b"/>
<line x1="76.5" y1="400.5" x2="76.5" y2="425.5" stroke="#69b83b"/>
<line x1="78.5" y1="405.3" x2="78.5" y2="439.5" stroke="#d9302a"/>
<line x1="79.5" y1="383.3" x2="79.5" y2="427.1" stroke="#69b83b"/>
<line x1="81.5" y1="380.5" x2="81.5" y2="387.2" stroke="#69b83b"/>
<line x1="83.5" y1="371.9" x2="83.5" y2="382.5" stroke="#69b83b"/>
<line x1="84.5" y1="369.8" x2="84.5" y2="377.0" stroke="#d9302a"/>
<line x1="86.5" y1="378.0" x2="86.5" y2="391.0" stroke="#d9302a"/>
<line x1="88.5" y1="392.4" x2="88.5" y2="400.0" stroke="#d9302a"/>
<line x1="89.5" y1="399.7" x2="89.5" y2="408.1" stroke="#d9302a"/>
<line x1="92.5" y1="396.1" x2="92.5" y2="402.6" stroke="#69b83b"/>
<line x1="94.5" y1="382.2" x2="94.5" y2="395.7" stroke="#69b83b"/>
<line x1="95.5" y1="375.7" x2="95.5" y2="380.0" stroke="#69b83b"/>
<line x1="97.5" y1="359.2" x2="97.5" y2="379.4" stroke="#69b83b"/>
<line x1="99.5" y1="358.7" x2="99.5" y2="365.2" stroke="#d9302a"/>
<line x1="101.5" y1="364.5" x2="101.5" y2="387.9" stroke="#d9302a"/>
<line x1="102.5" y1="357.7" x2="102.5" y2="375.7" stroke="#69b83b"/>
<line x1="104.5" y1="356.1" x2="104.5" y2="364.2" stroke="#d9302a"/>
<line x1="104.5" y1="362.7" x2="104.5" y2="363.5" stroke="#d9302a"/>
<line x1="110.5" y1="358.7" x2="110.5" y2="363.1" stroke="#69b83b"/>
<line x1="112.5" y1="349.5" x2="112.5" y2="358.6" stroke="#69b83b"/>
<line x1="113.5" y1="333.7" x2="113.5" y2="346.7" stroke="#69b83b"/>
<line x1="117.5" y1="334.0" x2="117.5" y2="348.3" stroke="#d9302a"/>
<line x1="118.5" y1="328.9" x2="118.5" y2="348.7" stroke="#69b83b"/>
<line x1="120.5" y1="312.4" x2="120.5" y2="325.7" stroke="#69b83b"/>
<line x1="122.5" y1="331.9" x2="122.5" y2="332.8" stroke="#69b83b"/>
<line x1="123.5" y1="325.6" x2="123.5" y2="330.5" stroke="#69b83b"/>
<line x1="125.5" y1="323.2" x2="125.5" y2="330.2" stroke="#d9302a"/>
<line x1="126.5" y1="325.0" x2="126.5" y2="333.3" stroke="#69b83b"/>
<line x1="128.5" y1="325.0" x2="128.5" y2="341.0" stroke="#d9302a"/>
<line x1="130.5" y1="340.8" x2="130.5" y2="347.6" stroke="#d9302a"/>
<line x1="131.5" y1="344.3" x2="131.5" y2="346.2" stroke="#69b83b"/>
<line x1="133.5" y1="347.5" x2="133.5" y2="349.2" stroke="#d9302a"/>
<line x1="138.5" y1="349.6" x2="138.5" y2="378.0" stroke="#d9302a"/>
<line x1="140.5" y1="377.0" x2="140.5" y2="378.0" stroke="#d9302a"/>
<line x1="141.5" y1="358.1" x2="141.5" y2="379.2" stroke="#69b83b"/>
<line x1="143.5" y1="357.1" x2="143.5" y2="361.7" stroke="#d9302a"/>
<line x1="146.5" y1="342.4" x2="146.5" y2="349.1" stroke="#69b83b"/>
<line x1="147.5" y1="340.8" x2="147.5" y2="354.3" stroke="#d9302a"/>
<line x1="149.5" y1="354.3" x2="149.5" y2="361.3" stroke="#d9302a"/>
<line x1="150.5" y1="352.4" x2="150.5" y2="360.0" stroke="#69b83b"/>
<line x1="152.5" y1="352.4" x2="152.5" y2="358.3" stroke="#d9302a"/>
<line x1="154.5" y1="358.5" x2="154.5" y2="363.9" stroke="#69b83b"/>
<line x1="155.5" y1="353.5" x2="155.5" y2="362.1" stroke="#69b83b"/>
<line x1="157.5" y1="337.4" x2="157.5" y2="351.4" stroke="#69b83b"/>
<line x1="159.5" y1="319.4" x2="159.5" y2="338.1" stroke="#69b83b"/>
<line x1="160.5" y1="303.1" x2="160.5" y2="319.6" stroke="#69b83b"/>
<line x1="162.5" y1="282.8" x2="162.5" y2="301.0" stroke="#69b83b"/>
<line x1="164.5" y1="280.5" x2="164.5" y2="284.9" stroke="#69b83b"/>
<line x1="165.5" y1="277.6" x2="165.5" y2="279.8" stroke="#69b83b"/>
<line x1="167.5" y1="273.8" x2="167.5" y2="276.9" stroke="#69b83b"/>
<line x1="168.5" y1="265.3" x2="168.5" y2="273.0" stroke="#69b83b"/>
<line x1="170.5" y1="266.2" x2="170.5" y2="285.7" stroke="#d9302a"/>
<line x1="172.5" y1="288.3" x2="172.5" y2="306.1" stroke="#d9302a"/>
<line x1="173.5" y1="305.9" x2="173.5" y2="307.6" stroke="#69b83b"/>
<line x1="176.5" y1="299.0" x2="176.5" y2="302.7" stroke="#69b83b"/>
<line x1="178.5" y1="298.1" x2="178.5" y2="310.5" stroke="#d9302a"/>
<line x1="180.5" y1="321.5" x2="180.5" y2="362.8" stroke="#d9302a"/>
<line x1="180.5" y1="344.3" x2="180.5" y2="363.3" stroke="#d9302a"/>
<line x1="183.5" y1="365.1" x2="183.5" y2="373.4" stroke="#d9302a"/>
<line x1="185.5" y1="373.3" x2="185.5" y2="387.5" stroke="#d9302a"/>
<line x1="186.5" y1="383.7" x2="186.5" y2="389.5" stroke="#d9302a"/>
<line x1="188.5" y1="390.4" x2="188.5" y2="395.4" stroke="#d9302a"/>
<line x1="189.5" y1="378.0" x2="189.5" y2="395.9" stroke="#69b83b"/>
<line x1="191.5" y1="346.0" x2="191.5" y2="379.0" stroke="#69b83b"/>
<line x1="193.5" y1="328.7" x2="193.5" y2="343.4" stroke="#69b83b"/>
<line x1="194.5" y1="328.9" x2="194.5" y2="339.0" stroke="#d9302a"/>
<line x1="196.5" y1="337.6" x2="196.5" y2="372.0" stroke="#d9302a"/>
<line x1="197.5" y1="374.0" x2="197.5" y2="440.0" stroke="#69b83b"/>
<line x1="199.5" y1="382.7" x2="199.5" y2="393.8" stroke="#d9302a"/>
<line x1="201.5" y1="356.4" x2="201.5" y2="386.3" stroke="#69b83b"/>
<line x1="202.5" y1="337.4" x2="202.5" y2="354.6" stroke="#69b83b"/>
<line x1="204.5" y1="307.2" x2="204.5" y2="333.9" stroke="#69b83b"/>
<line x1="206.5" y1="302.5" x2="206.5" y2="303.6" stroke="#d9302a"/>
<line x1="207.5" y1="302.5" x2="207.5" y2="316.7" stroke="#d9302a"/>
<line x1="208.5" y1="318.9" x2="208.5" y2="328.7" stroke="#d9302a"/>
<line x1="210.5" y1="328.6" x2="210.5" y2="329.8" stroke="#d9302a"/>
<line x1="212.5" y1="319.5" x2="212.5" y2="325.3" stroke="#69b83b"/>
<line x1="214.5" y1="303.6" x2="214.5" y2="317.8" stroke="#69b83b"/>
<line x1="215.5" y1="285.5" x2="215.5" y2="304.4" stroke="#69b83b"/>
<line x1="217.5" y1="285.1" x2="217.5" y2="288.8" stroke="#69b83b"/>
<line x1="218.5" y1="286.3" x2="218.5" y2="287.5" stroke="#69b83b"/>
<line x1="220.5" y1="287.1" x2="220.5" y2="300.7" stroke="#d9302a"/>
<line x1="222.5" y1="297.8" x2="222.5" y2="301.1" stroke="#69b83b"/>
<line x1="223.5" y1="295.7" x2="223.5" y2="308.2" stroke="#d9302a"/>
<line x1="225.5" y1="299.1" x2="225.5" y2="307.3" stroke="#69b83b"/>
<line x1="227.5" y1="293.4" x2="227.5" y2="298.5" stroke="#69b83b"/>
<line x1="228.5" y1="291.9" x2="228.5" y2="297.0" stroke="#d9302a"/>
<line x1="230.5" y1="291.2" x2="230.5" y2="297.1" stroke="#69b83b"/>
<line x1="231.5" y1="287.1" x2="231.5" y2="290.4" stroke="#69b83b"/>
<line x1="233.5" y1="272.1" x2="233.5" y2="287.8" stroke="#69b83b"/>
<line x1="235.5" y1="275.0" x2="235.5" y2="279.7" stroke="#d9302a"/>
<line x1="236.5" y1="281.2" x2="236.5" y2="286.4" stroke="#d9302a"/>
<line x1="238.5" y1="287.3" x2="238.5" y2="293.9" stroke="#d9302a"/>
<line x1="239.5" y1="293.4" x2="239.5" y2="297.9" stroke="#d9302a"/>
<line x1="241.5" y1="294.8" x2="241.5" y2="305.0" stroke="#d9302a"/>
<line x1="243.5" y1="304.8" x2="243.5" y2="308.2" stroke="#d9302a"/>
<line x1="244.5" y1="296.9" x2="244.5" y2="309.3" stroke="#69b83b"/>
<line x1="246.5" y1="292.8" x2="246.5" y2="294.9" stroke="#69b83b"/>
<line x1="248.5" y1="282.6" x2="248.5" y2="295.3" stroke="#69b83b"/>
<line x1="249.5" y1="282.0" x2="249.5" y2="283.8" stroke="#d9302a"/>
<line x1="251.5" y1="258.0" x2="251.5" y2="266.4" stroke="#69b83b"/>
<line x1="252.5" y1="252.8" x2="252.5" y2="257.3" stroke="#69b83b"/>
<line x1="254.5" y1="250.3" x2="254.5" y2="255.2" stroke="#d9302a"/>
<line x1="256.5" y1="259.3" x2="256.5" y2="285.5" stroke="#d9302a"/>
<line x1="257.5" y1="283.2" x2="257.5" y2="285.5" stroke="#d9302a"/>
<line x1="259.5" y1="287.3" x2="259.5" y2="293.8" stroke="#d9302a"/>
<line x1="260.5" y1="294.0" x2="260.5" y2="309.3" stroke="#d9302a"/>
<line x1="262.5" y1="294.0" x2="262.5" y2="309.8" stroke="#69b83b"/>
<line x1="264.5" y1="292.4" x2="264.5" y2="318.8" stroke="#d9302a"/>
<line x1="265.5" y1="302.3" x2="265.5" y2="308.3" stroke="#69b83b"/>
<line x1="267.5" y1="304.1" x2="267.5" y2="306.4" stroke="#d9302a"/>
<line x1="269.5" y1="310.3" x2="269.5" y2="325.6" stroke="#d9302a"/>
<line x1="270.5" y1="316.9" x2="270.5" y2="323.9" stroke="#69b83b"/>
<line x1="272.5" y1="314.1" x2="272.5" y2="316.9" stroke="#69b83b"/>
<line x1="273.5" y1="311.9" x2="273.5" y2="316.0" stroke="#69b83b"/>
<line x1="275.5" y1="310.6" x2="275.5" y2="329.3" stroke="#d9302a"/>
<line x1="277.5" y1="318.8" x2="277.5" y2="330.7" stroke="#69b83b"/>
<line x1="278.5" y1="313.1" x2="278.5" y2="317.2" stroke="#69b83b"/>
<line x1="280.5" y1="297.9" x2="280.5" y2="314.3" stroke="#69b83b"/>
<line x1="281.5" y1="256.8" x2="281.5" y2="280.1" stroke="#69b83b"/>
<line x1="283.5" y1="215.7" x2="283.5" y2="241.4" stroke="#69b83b"/>
<line x1="285.5" y1="216.4" x2="285.5" y2="226.5" stroke="#d9302a"/>
<line x1="285.5" y1="224.2" x2="285.5" y2="266.3" stroke="#d9302a"/>
<line x1="287.5" y1="252.4" x2="287.5" y2="267.7" stroke="#69b83b"/>
<line x1="290.5" y1="233.7" x2="290.5" y2="250.2" stroke="#69b83b"/>
<line x1="293.5" y1="233.5" x2="293.5" y2="237.5" stroke="#69b83b"/>
<line x1="294.5" y1="232.5" x2="294.5" y2="234.7" stroke="#69b83b"/>
<line x1="298.5" y1="219.4" x2="298.5" y2="234.3" stroke="#69b83b"/>
<line x1="299.5" y1="203.8" x2="299.5" y2="219.7" stroke="#69b83b"/>
<line x1="301.5" y1="194.0" x2="301.5" y2="201.3" stroke="#69b83b"/>
<line x1="304.5" y1="181.4" x2="304.5" y2="215.7" stroke="#d9302a"/>
<line x1="306.5" y1="207.1" x2="306.5" y2="215.1" stroke="#69b83b"/>
<line x1="307.5" y1="207.4" x2="307.5" y2="214.8" stroke="#d9302a"/>
<line x1="311.5" y1="207.1" x2="311.5" y2="210.9" stroke="#69b83b"/>
<line x1="312.5" y1="206.1" x2="312.5" y2="216.7" stroke="#d9302a"/>
<line x1="314.5" y1="217.4" x2="314.5" y2="231.0" stroke="#d9302a"/>
<line x1="316.5" y1="231.4" x2="316.5" y2="233.8" stroke="#d9302a"/>
<line x1="318.5" y1="233.5" x2="318.5" y2="245.7" stroke="#d9302a"/>
<line x1="319.5" y1="225.4" x2="319.5" y2="241.4" stroke="#69b83b"/>
<line x1="320.5" y1="209.9" x2="320.5" y2="227.9" stroke="#69b83b"/>
<line x1="322.5" y1="211.3" x2="322.5" y2="228.1" stroke="#d9302a"/>
<line x1="323.5" y1="230.1" x2="323.5" y2="248.6" stroke="#d9302a"/>
<line x1="325.5" y1="239.5" x2="325.5" y2="251.2" stroke="#69b83b"/>
<line x1="327.5" y1="234.7" x2="327.5" y2="238.6" stroke="#69b83b"/>
<line x1="330.5" y1="224.2" x2="330.5" y2="236.3" stroke="#69b83b"/>
<line x1="332.5" y1="218.3" x2="332.5" y2="227.6" stroke="#69b83b"/>
<line x1="333.5" y1="215.0" x2="333.5" y2="222.7" stroke="#d9302a"/>
<line x1="335.5" y1="222.3" x2="335.5" y2="232.2" stroke="#d9302a"/>
<line x1="336.5" y1="230.7" x2="336.5" y2="236.7" stroke="#d9302a"/>
<line x1="338.5" y1="223.3" x2="338.5" y2="264.3" stroke="#d9302a"/>
<line x1="340.5" y1="267.5" x2="340.5" y2="269.3" stroke="#d9302a"/>
<line x1="341.5" y1="252.7" x2="341.5" y2="268.7" stroke="#69b83b"/>
<line x1="343.5" y1="250.2" x2="343.5" y2="261.8" stroke="#d9302a"/>
<line x1="345.5" y1="275.7" x2="345.5" y2="294.8" stroke="#d9302a"/>
<line x1="346.5" y1="286.0" x2="346.5" y2="334.8" stroke="#d9302a"/>
<line x1="348.5" y1="309.0" x2="348.5" y2="326.9" stroke="#d9302a"/>
<line x1="351.5" y1="311.9" x2="351.5" y2="344.3" stroke="#d9302a"/>
<line x1="353.5" y1="309.0" x2="353.5" y2="322.4" stroke="#69b83b"/>
<line x1="356.5" y1="240.0" x2="356.5" y2="392.0" stroke="#69b83b"/>
<line x1="357.5" y1="240.0" x2="357.5" y2="265.0" stroke="#d9302a"/>
<line x1="359.5" y1="262.2" x2="359.5" y2="268.6" stroke="#d9302a"/>
<line x1="361.5" y1="265.0" x2="361.5" y2="292.9" stroke="#d9302a"/>
<line x1="362.5" y1="295.6" x2="362.5" y2="296.7" stroke="#d9302a"/>
<line x1="364.5" y1="296.0" x2="364.5" y2="302.4" stroke="#d9302a"/>
<line x1="365.5" y1="294.6" x2="365.5" y2="299.3" stroke="#69b83b"/>
<line x1="370.5" y1="292.8" x2="370.5" y2="300.1" stroke="#d9302a"/>
<line x1="372.5" y1="302.4" x2="372.5" y2="310.2" stroke="#d9302a"/>
<line x1="374.5" y1="297.9" x2="374.5" y2="310.7" stroke="#69b83b"/>
<line x1="375.5" y1="284.3" x2="375.5" y2="297.6" stroke="#69b83b"/>
<line x1="377.5" y1="275.3" x2="377.5" y2="278.2" stroke="#69b83b"/>
<line x1="380.5" y1="275.9" x2="380.5" y2="281.4" stroke="#d9302a"/>
<line x1="382.5" y1="282.0" x2="382.5" y2="288.3" stroke="#d9302a"/>
<line x1="383.5" y1="290.4" x2="383.5" y2="293.2" stroke="#d9302a"/>
<line x1="385.5" y1="280.5" x2="385.5" y2="291.8" stroke="#69b83b"/>
<line x1="385.5" y1="285.6" x2="385.5" y2="296.5" stroke="#d9302a"/>
<line x1="387.5" y1="273.5" x2="387.5" y2="282.4" stroke="#69b83b"/>
<line x1="390.5" y1="256.7" x2="390.5" y2="276.6" stroke="#69b83b"/>
<line x1="393.5" y1="222.6" x2="393.5" y2="246.8" stroke="#69b83b"/>
<line x1="396.5" y1="216.6" x2="396.5" y2="220.8" stroke="#69b83b"/>
<line x1="398.5" y1="205.7" x2="398.5" y2="218.6" stroke="#69b83b"/>
<line x1="399.5" y1="185.7" x2="399.5" y2="206.6" stroke="#69b83b"/>
<line x1="403.5" y1="179.7" x2="403.5" y2="187.6" stroke="#d9302a"/>
<line x1="404.5" y1="171.9" x2="404.5" y2="185.7" stroke="#69b83b"/>
<line x1="408.5" y1="164.5" x2="408.5" y2="172.4" stroke="#69b83b"/>
<line x1="409.5" y1="159.1" x2="409.5" y2="165.8" stroke="#69b83b"/>
<line x1="411.5" y1="159.4" x2="411.5" y2="160.5" stroke="#d9302a"/>
<line x1="412.5" y1="150.6" x2="412.5" y2="163.7" stroke="#69b83b"/>
<line x1="414.5" y1="148.5" x2="414.5" y2="149.4" stroke="#69b83b"/>
<line x1="416.5" y1="144.9" x2="416.5" y2="147.7" stroke="#69b83b"/>
<line x1="419.5" y1="136.2" x2="419.5" y2="146.8" stroke="#69b83b"/>
<line x1="420.5" y1="137.8" x2="420.5" y2="140.0" stroke="#d9302a"/>
<line x1="422.5" y1="143.0" x2="422.5" y2="152.4" stroke="#d9302a"/>
<line x1="424.5" y1="135.2" x2="424.5" y2="188.6" stroke="#d9302a"/>
<line x1="425.5" y1="163.8" x2="425.5" y2="190.9" stroke="#69b83b"/>
<line x1="427.5" y1="164.7" x2="427.5" y2="181.6" stroke="#d9302a"/>
<line x1="428.5" y1="175.5" x2="428.5" y2="179.5" stroke="#69b83b"/>
<line x1="430.5" y1="162.9" x2="430.5" y2="175.2" stroke="#69b83b"/>
<line x1="431.5" y1="156.2" x2="431.5" y2="167.0" stroke="#69b83b"/>
<line x1="434.5" y1="153.7" x2="434.5" y2="157.4" stroke="#69b83b"/>
<line x1="435.5" y1="148.9" x2="435.5" y2="154.6" stroke="#d9302a"/>
<line x1="439.5" y1="151.7" x2="439.5" y2="159.9" stroke="#d9302a"/>
<line x1="440.5" y1="160.0" x2="440.5" y2="166.4" stroke="#d9302a"/>
<line x1="442.5" y1="154.4" x2="442.5" y2="170.5" stroke="#69b83b"/>
<line x1="443.5" y1="154.3" x2="443.5" y2="155.9" stroke="#69b83b"/>
<line x1="445.5" y1="137.2" x2="445.5" y2="154.9" stroke="#69b83b"/>
<line x1="447.5" y1="135.4" x2="447.5" y2="138.3" stroke="#d9302a"/>
<line x1="448.5" y1="136.0" x2="448.5" y2="159.1" stroke="#d9302a"/>
<line x1="450.5" y1="158.7" x2="450.5" y2="167.6" stroke="#d9302a"/>
<line x1="451.5" y1="155.9" x2="451.5" y2="165.7" stroke="#69b83b"/>
<line x1="453.5" y1="149.1" x2="453.5" y2="161.9" stroke="#69b83b"/>
<line x1="454.5" y1="148.3" x2="454.5" y2="158.1" stroke="#d9302a"/>
<line x1="456.5" y1="156.9" x2="456.5" y2="162.9" stroke="#d9302a"/>
<line x1="458.5" y1="165.2" x2="458.5" y2="168.5" stroke="#d9302a"/>
<line x1="459.5" y1="156.2" x2="459.5" y2="168.6" stroke="#69b83b"/>
<line x1="461.5" y1="138.1" x2="461.5" y2="153.7" stroke="#69b83b"/>
<line x1="463.5" y1="133.3" x2="463.5" y2="140.7" stroke="#69b83b"/>
<line x1="466.5" y1="128.4" x2="466.5" y2="132.7" stroke="#69b83b"/>
<line x1="467.5" y1="125.7" x2="467.5" y2="133.7" stroke="#d9302a"/>
<line x1="469.5" y1="134.3" x2="469.5" y2="136.4" stroke="#d9302a"/>
<line x1="471.5" y1="126.2" x2="471.5" y2="136.7" stroke="#69b83b"/>
<line x1="472.5" y1="125.5" x2="472.5" y2="132.9" stroke="#d9302a"/>
<line x1="474.5" y1="115.7" x2="474.5" y2="134.3" stroke="#69b83b"/>
<line x1="475.5" y1="89.1" x2="475.5" y2="117.4" stroke="#69b83b"/>
<line x1="477.5" y1="87.4" x2="477.5" y2="104.3" stroke="#d9302a"/>
<line x1="479.5" y1="102.4" x2="479.5" y2="116.7" stroke="#d9302a"/>
<line x1="480.5" y1="111.9" x2="480.5" y2="114.5" stroke="#d9302a"/>
<line x1="484.5" y1="108.0" x2="484.5" y2="119.1" stroke="#69b83b"/>
<line x1="485.5" y1="110.0" x2="485.5" y2="124.1" stroke="#d9302a"/>
<line x1="486.5" y1="126.9" x2="486.5" y2="131.0" stroke="#d9302a"/>
<line x1="490.5" y1="132.9" x2="490.5" y2="143.9" stroke="#d9302a"/>
<line x1="492.5" y1="134.0" x2="492.5" y2="146.0" stroke="#69b83b"/>
<line x1="493.5" y1="134.8" x2="493.5" y2="140.9" stroke="#d9302a"/>
<line x1="495.5" y1="139.1" x2="495.5" y2="142.3" stroke="#69b83b"/>
<line x1="497.5" y1="139.9" x2="497.5" y2="150.9" stroke="#d9302a"/>
<line x1="498.5" y1="142.2" x2="498.5" y2="150.7" stroke="#69b83b"/>
<line x1="500.5" y1="133.8" x2="500.5" y2="141.3" stroke="#69b83b"/>
<line x1="501.5" y1="131.6" x2="501.5" y2="142.7" stroke="#d9302a"/>
<line x1="503.5" y1="127.8" x2="503.5" y2="143.0" stroke="#69b83b"/>
<line x1="505.5" y1="130.3" x2="505.5" y2="132.9" stroke="#d9302a"/>
<line x1="506.5" y1="131.9" x2="506.5" y2="181.4" stroke="#d9302a"/>
<line x1="508.5" y1="167.1" x2="508.5" y2="173.1" stroke="#69b83b"/>
<line x1="509.5" y1="160.6" x2="509.5" y2="165.8" stroke="#69b83b"/>
<line x1="511.5" y1="161.1" x2="511.5" y2="165.7" stroke="#d9302a"/>
<line x1="513.5" y1="161.7" x2="513.5" y2="163.7" stroke="#69b83b"/>
<line x1="514.5" y1="152.9" x2="514.5" y2="162.5" stroke="#69b83b"/>
<line x1="516.5" y1="137.6" x2="516.5" y2="152.4" stroke="#69b83b"/>
<line x1="517.5" y1="135.7" x2="517.5" y2="138.2" stroke="#69b83b"/>
<line x1="519.5" y1="134.5" x2="519.5" y2="139.8" stroke="#d9302a"/>
<line x1="521.5" y1="130.1" x2="521.5" y2="137.4" stroke="#69b83b"/>
<line x1="521.5" y1="129.5" x2="521.5" y2="135.7" stroke="#d9302a"/>
<line x1="523.5" y1="135.5" x2="523.5" y2="137.8" stroke="#69b83b"/>
<line x1="524.5" y1="138.7" x2="524.5" y2="148.7" stroke="#d9302a"/>
<line x1="526.5" y1="136.7" x2="526.5" y2="148.1" stroke="#69b83b"/>
<line x1="529.5" y1="127.0" x2="529.5" y2="138.3" stroke="#69b83b"/>
<line x1="530.5" y1="128.5" x2="530.5" y2="137.1" stroke="#d9302a"/>
<line x1="532.5" y1="126.4" x2="532.5" y2="137.9" stroke="#69b83b"/>
<line x1="534.5" y1="123.3" x2="534.5" y2="125.7" stroke="#d9302a"/>
<line x1="535.5" y1="126.4" x2="535.5" y2="134.8" stroke="#d9302a"/>
<line x1="537.5" y1="134.4" x2="537.5" y2="153.1" stroke="#d9302a"/>
<line x1="538.5" y1="155.4" x2="538.5" y2="160.4" stroke="#d9302a"/>
<line x1="540.5" y1="152.8" x2="540.5" y2="162.0" stroke="#69b83b"/>
<line x1="542.5" y1="138.6" x2="542.5" y2="150.9" stroke="#69b83b"/>
<line x1="543.5" y1="133.5" x2="543.5" y2="138.1" stroke="#d9302a"/>
<line x1="545.5" y1="134.4" x2="545.5" y2="139.3" stroke="#69b83b"/>
<line x1="547.5" y1="135.8" x2="547.5" y2="143.5" stroke="#d9302a"/>
<line x1="548.5" y1="129.6" x2="548.5" y2="140.9" stroke="#69b83b"/>
<line x1="550.5" y1="122.3" x2="550.5" y2="131.5" stroke="#69b83b"/>
<line x1="551.5" y1="87.9" x2="551.5" y2="118.3" stroke="#69b83b"/>
<line x1="553.5" y1="70.1" x2="553.5" y2="78.0" stroke="#69b83b"/>
<line x1="555.5" y1="45.0" x2="555.5" y2="68.6" stroke="#69b83b"/>
<line x1="556.5" y1="43.0" x2="556.5" y2="64.1" stroke="#d9302a"/>
<line x1="558.5" y1="63.2" x2="558.5" y2="73.6" stroke="#d9302a"/>
<line x1="559.5" y1="67.8" x2="559.5" y2="71.7" stroke="#69b83b"/>
<line x1="561.5" y1="55.5" x2="561.5" y2="68.2" stroke="#69b83b"/>
<line x1="563.5" y1="55.9" x2="563.5" y2="62.9" stroke="#d9302a"/>
<line x1="564.5" y1="61.6" x2="564.5" y2="70.8" stroke="#d9302a"/>
<line x1="566.5" y1="69.6" x2="566.5" y2="83.0" stroke="#d9302a"/>
<line x1="568.5" y1="81.9" x2="568.5" y2="102.3" stroke="#d9302a"/>
<line x1="569.5" y1="100.5" x2="569.5" y2="112.6" stroke="#d9302a"/>
<line x1="571.5" y1="112.4" x2="571.5" y2="114.4" stroke="#69b83b"/>
<line x1="572.5" y1="111.8" x2="572.5" y2="119.8" stroke="#d9302a"/>
<line x1="574.5" y1="116.7" x2="574.5" y2="121.2" stroke="#69b83b"/>
<line x1="576.5" y1="108.8" x2="576.5" y2="114.4" stroke="#69b83b"/>
<line x1="577.5" y1="110.7" x2="577.5" y2="117.1" stroke="#d9302a"/>
<line x1="579.5" y1="106.6" x2="579.5" y2="117.1" stroke="#69b83b"/>
<line x1="580.5" y1="107.9" x2="580.5" y2="114.5" stroke="#d9302a"/>
<line x1="582.5" y1="110.5" x2="582.5" y2="114.3" stroke="#69b83b"/>
<line x1="584.5" y1="103.4" x2="584.5" y2="108.7" stroke="#69b83b"/>
<line x1="585.5" y1="98.3" x2="585.5" y2="105.8" stroke="#69b83b"/>
<line x1="587.5" y1="97.5" x2="587.5" y2="105.0" stroke="#d9302a"/>
<line x1="589.5" y1="104.7" x2="589.5" y2="116.4" stroke="#d9302a"/>
<line x1="590.5" y1="100.9" x2="590.5" y2="114.7" stroke="#69b83b"/>
<line x1="591.5" y1="99.7" x2="591.5" y2="101.3" stroke="#69b83b"/>
<line x1="593.5" y1="96.4" x2="593.5" y2="98.9" stroke="#69b83b"/>
<line x1="595.5" y1="93.6" x2="595.5" y2="96.9" stroke="#69b83b"/>
<line x1="597.5" y1="90.7" x2="597.5" y2="94.3" stroke="#69b83b"/>
<line x1="598.5" y1="72.6" x2="598.5" y2="89.3" stroke="#69b83b"/>
<line x1="600.5" y1="54.3" x2="600.5" y2="69.8" stroke="#69b83b"/>
<line x1="603.5" y1="45.0" x2="603.5" y2="57.3" stroke="#69b83b"/>
<line x1="606.5" y1="44.1" x2="606.5" y2="55.5" stroke="#d9302a"/>
<line x1="608.5" y1="56.7" x2="608.5" y2="66.5" stroke="#d9302a"/>
<line x1="610.5" y1="61.7" x2="610.5" y2="67.3" stroke="#69b83b"/>
<line x1="611.5" y1="62.3" x2="611.5" y2="64.7" stroke="#d9302a"/>
<line x1="613.5" y1="65.6" x2="613.5" y2="75.5" stroke="#d9302a"/>
<line x1="614.5" y1="71.7" x2="614.5" y2="106.9" stroke="#d9302a"/>
<line x1="616.5" y1="105.0" x2="616.5" y2="112.4" stroke="#d9302a"/>
<line x1="618.5" y1="114.2" x2="618.5" y2="130.1" stroke="#d9302a"/>
<line x1="619.5" y1="118.4" x2="619.5" y2="129.1" stroke="#69b83b"/>
<line x1="621.5" y1="117.1" x2="621.5" y2="123.0" stroke="#d9302a"/>
<line x1="622.5" y1="122.8" x2="622.5" y2="126.9" stroke="#d9302a"/>
<line x1="624.5" y1="127.3" x2="624.5" y2="130.4" stroke="#d9302a"/>
<line x1="626.5" y1="126.8" x2="626.5" y2="139.0" stroke="#d9302a"/>
<line x1="627.5" y1="136.5" x2="627.5" y2="137.7" stroke="#69b83b"/>
<line x1="629.5" y1="137.7" x2="629.5" y2="138.7" stroke="#d9302a"/>
<line x1="630.5" y1="128.6" x2="630.5" y2="138.4" stroke="#69b83b"/>
<line x1="632.5" y1="111.6" x2="632.5" y2="128.8" stroke="#69b83b"/>
<line x1="634.5" y1="101.9" x2="634.5" y2="109.0" stroke="#69b83b"/>
<line x1="635.5" y1="103.7" x2="635.5" y2="112.4" stroke="#d9302a"/>
<line x1="637.5" y1="115.9" x2="637.5" y2="116.8" stroke="#d9302a"/>
<line x1="639.5" y1="116.4" x2="639.5" y2="126.5" stroke="#d9302a"/>
<line x1="639.5" y1="124.2" x2="639.5" y2="125.0" stroke="#69b83b"/>
<line x1="640.5" y1="121.9" x2="640.5" y2="127.3" stroke="#d9302a"/>
<line x1="642.5" y1="129.0" x2="642.5" y2="139.0" stroke="#d9302a"/>
<line x1="644.5" y1="137.0" x2="644.5" y2="163.8" stroke="#d9302a"/>
<line x1="645.5" y1="160.0" x2="645.5" y2="166.0" stroke="#69b83b"/>
<line x1="647.5" y1="162.4" x2="647.5" y2="167.6" stroke="#d9302a"/>
<line x1="648.5" y1="169.1" x2="648.5" y2="180.0" stroke="#d9302a"/>
<line x1="653.5" y1="178.1" x2="653.5" y2="194.3" stroke="#d9302a"/>
<line x1="655.5" y1="176.0" x2="655.5" y2="220.0" stroke="#d9302a"/>
<line x1="656.5" y1="190.6" x2="656.5" y2="227.6" stroke="#d9302a"/>
<line x1="658.5" y1="225.2" x2="658.5" y2="230.8" stroke="#d9302a"/>
<line x1="659.5" y1="232.7" x2="659.5" y2="248.4" stroke="#d9302a"/>
<line x1="661.5" y1="251.3" x2="661.5" y2="252.1" stroke="#d9302a"/>
<line x1="663.5" y1="254.2" x2="663.5" y2="256.0" stroke="#d9302a"/>
<line x1="665.5" y1="254.6" x2="665.5" y2="270.5" stroke="#d9302a"/>
<line x1="666.5" y1="269.1" x2="666.5" y2="282.2" stroke="#d9302a"/>
<line x1="668.5" y1="284.1" x2="668.5" y2="292.5" stroke="#d9302a"/>
<line x1="669.5" y1="250.5" x2="669.5" y2="268.6" stroke="#69b83b"/>
<line x1="671.5" y1="243.8" x2="671.5" y2="253.0" stroke="#69b83b"/>
<line x1="673.5" y1="240.1" x2="673.5" y2="246.2" stroke="#69b83b"/>
<line x1="674.5" y1="239.9" x2="674.5" y2="245.7" stroke="#d9302a"/>
<line x1="676.5" y1="244.9" x2="676.5" y2="261.2" stroke="#d9302a"/>
<line x1="677.5" y1="252.9" x2="677.5" y2="257.5" stroke="#69b83b"/>
<line x1="679.5" y1="222.9" x2="679.5" y2="274.3" stroke="#69b83b"/>
<line x1="681.5" y1="213.3" x2="681.5" y2="221.9" stroke="#69b83b"/>
<line x1="682.5" y1="207.6" x2="682.5" y2="212.4" stroke="#69b83b"/>
<line x1="684.5" y1="206.6" x2="684.5" y2="215.2" stroke="#d9302a"/>
<line x1="686.5" y1="214.2" x2="686.5" y2="216.5" stroke="#69b83b"/>
<line x1="687.5" y1="214.9" x2="687.5" y2="220.3" stroke="#d9302a"/>
<line x1="689.5" y1="216.2" x2="689.5" y2="217.5" stroke="#69b83b"/>
<line x1="690.5" y1="206.7" x2="690.5" y2="214.8" stroke="#69b83b"/>
<line x1="692.5" y1="204.5" x2="692.5" y2="210.1" stroke="#d9302a"/>
<line x1="694.5" y1="203.8" x2="694.5" y2="214.2" stroke="#69b83b"/>
<line x1="695.5" y1="202.9" x2="695.5" y2="217.2" stroke="#d9302a"/>
<line x1="696.5" y1="216.8" x2="696.5" y2="218.9" stroke="#69b83b"/>
<line x1="698.5" y1="212.7" x2="698.5" y2="220.7" stroke="#69b83b"/>
<line x1="700.5" y1="216.4" x2="700.5" y2="223.1" stroke="#d9302a"/>
<line x1="701.5" y1="217.1" x2="701.5" y2="225.9" stroke="#69b83b"/>
<line x1="703.5" y1="220.4" x2="703.5" y2="225.7" stroke="#d9302a"/>
<line x1="705.5" y1="223.2" x2="705.5" y2="226.8" stroke="#d9302a"/>
<line x1="706.5" y1="226.1" x2="706.5" y2="231.3" stroke="#d9302a"/>
<line x1="708.5" y1="229.8" x2="708.5" y2="232.0" stroke="#d9302a"/>
<line x1="710.5" y1="231.5" x2="710.5" y2="239.0" stroke="#d9302a"/>
<line x1="713.5" y1="240.9" x2="713.5" y2="257.0" stroke="#d9302a"/>
<line x1="715.5" y1="258.1" x2="715.5" y2="267.6" stroke="#d9302a"/>
<line x1="716.5" y1="266.7" x2="716.5" y2="274.1" stroke="#d9302a"/>
<line x1="719.5" y1="278.5" x2="719.5" y2="279.4" stroke="#69b83b"/>
<line x1="721.5" y1="277.5" x2="721.5" y2="278.7" stroke="#d9302a"/>
<line x1="722.5" y1="265.2" x2="722.5" y2="280.5" stroke="#69b83b"/>
<line x1="724.5" y1="263.3" x2="724.5" y2="265.4" stroke="#69b83b"/>
<line x1="726.5" y1="256.1" x2="726.5" y2="265.9" stroke="#69b83b"/>
<line x1="728.5" y1="253.8" x2="728.5" y2="256.7" stroke="#69b83b"/>
<line x1="729.5" y1="218.6" x2="729.5" y2="259.5" stroke="#69b83b"/>
<line x1="731.5" y1="213.9" x2="731.5" y2="227.1" stroke="#69b83b"/>
<line x1="732.5" y1="213.6" x2="732.5" y2="229.0" stroke="#d9302a"/>
<line x1="734.5" y1="230.3" x2="734.5" y2="240.5" stroke="#d9302a"/>
<line x1="736.5" y1="240.7" x2="736.5" y2="252.6" stroke="#d9302a"/>
<line x1="737.5" y1="240.9" x2="737.5" y2="255.7" stroke="#69b83b"/>
<line x1="739.5" y1="240.5" x2="739.5" y2="241.6" stroke="#d9302a"/>
<line x1="740.5" y1="235.8" x2="740.5" y2="240.7" stroke="#69b83b"/>
<line x1="742.5" y1="231.1" x2="742.5" y2="234.3" stroke="#69b83b"/>
<line x1="744.5" y1="224.3" x2="744.5" y2="229.5" stroke="#69b83b"/>
<line x1="745.5" y1="214.8" x2="745.5" y2="221.4" stroke="#69b83b"/>
<line x1="747.5" y1="213.8" x2="747.5" y2="215.3" stroke="#d9302a"/>
<line x1="749.5" y1="207.1" x2="749.5" y2="217.2" stroke="#69b83b"/>
<line x1="750.5" y1="207.3" x2="750.5" y2="208.7" stroke="#d9302a"/>
<line x1="752.5" y1="208.4" x2="752.5" y2="209.9" stroke="#d9302a"/>
<line x1="753.5" y1="204.4" x2="753.5" y2="210.6" stroke="#69b83b"/>
<line x1="755.5" y1="191.0" x2="755.5" y2="206.5" stroke="#69b83b"/>
<line x1="757.5" y1="192.3" x2="757.5" y2="194.0" stroke="#d9302a"/>
<line x1="759.5" y1="194.7" x2="759.5" y2="195.6" stroke="#69b83b"/>
<line x1="760.5" y1="193.6" x2="760.5" y2="200.5" stroke="#d9302a"/>
<line x1="761.5" y1="200.0" x2="761.5" y2="216.6" stroke="#d9302a"/>
<line x1="763.5" y1="216.7" x2="763.5" y2="238.6" stroke="#d9302a"/>
<line x1="768.5" y1="232.9" x2="768.5" y2="235.5" stroke="#d9302a"/>
<line x1="770.5" y1="235.1" x2="770.5" y2="237.5" stroke="#d9302a"/>
<line x1="771.5" y1="237.1" x2="771.5" y2="249.7" stroke="#d9302a"/>
<line x1="773.5" y1="248.0" x2="773.5" y2="267.0" stroke="#d9302a"/>
<line x1="774.5" y1="266.2" x2="774.5" y2="283.5" stroke="#d9302a"/>
<line x1="776.5" y1="286.1" x2="776.5" y2="294.8" stroke="#d9302a"/>
<line x1="778.5" y1="294.1" x2="778.5" y2="311.9" stroke="#d9302a"/>
<line x1="779.5" y1="309.9" x2="779.5" y2="320.5" stroke="#d9302a"/>
<line x1="781.5" y1="292.9" x2="781.5" y2="367.1" stroke="#d9302a"/>
<line x1="782.5" y1="366.6" x2="782.5" y2="380.3" stroke="#d9302a"/>
<line x1="786.5" y1="378.6" x2="786.5" y2="393.2" stroke="#d9302a"/>
<line x1="787.5" y1="389.9" x2="787.5" y2="405.0" stroke="#d9302a"/>
<line x1="789.5" y1="399.7" x2="789.5" y2="405.4" stroke="#d9302a"/>
<line x1="791.5" y1="394.0" x2="791.5" y2="406.0" stroke="#69b83b"/>
<line x1="792.5" y1="396.1" x2="792.5" y2="415.6" stroke="#d9302a"/>
<line x1="794.5" y1="412.3" x2="794.5" y2="416.5" stroke="#d9302a"/>
<line x1="795.5" y1="414.7" x2="795.5" y2="415.9" stroke="#d9302a"/>
<line x1="797.5" y1="403.7" x2="797.5" y2="417.1" stroke="#69b83b"/>
<line x1="799.5" y1="373.9" x2="799.5" y2="399.7" stroke="#69b83b"/>
<line x1="800.5" y1="366.7" x2="800.5" y2="372.1" stroke="#69b83b"/>
<line x1="802.5" y1="341.4" x2="802.5" y2="367.1" stroke="#69b83b"/>
<line x1="803.5" y1="317.6" x2="803.5" y2="351.9" stroke="#69b83b"/>
<line x1="805.5" y1="309.9" x2="805.5" y2="311.8" stroke="#69b83b"/>
<line x1="807.5" y1="301.4" x2="807.5" y2="311.7" stroke="#69b83b"/>
<line x1="810.5" y1="302.4" x2="810.5" y2="313.8" stroke="#d9302a"/>
<line x1="812.5" y1="313.2" x2="812.5" y2="341.5" stroke="#d9302a"/>
<line x1="815.5" y1="315.5" x2="815.5" y2="339.2" stroke="#69b83b"/>
<line x1="816.5" y1="312.8" x2="816.5" y2="327.6" stroke="#d9302a"/>
<line x1="818.5" y1="325.2" x2="818.5" y2="327.6" stroke="#69b83b"/>
<line x1="819.5" y1="323.5" x2="819.5" y2="324.4" stroke="#d9302a"/>
<line x1="821.5" y1="323.8" x2="821.5" y2="332.2" stroke="#d9302a"/>
<line x1="823.5" y1="329.0" x2="823.5" y2="331.8" stroke="#69b83b"/>
<line x1="826.5" y1="332.4" x2="826.5" y2="335.7" stroke="#d9302a"/>
<line x1="828.5" y1="333.7" x2="828.5" y2="346.6" stroke="#d9302a"/>
<line x1="829.5" y1="335.1" x2="829.5" y2="346.5" stroke="#69b83b"/>
<line x1="831.5" y1="329.2" x2="831.5" y2="351.6" stroke="#69b83b"/>
<line x1="0.5" y1="313.5" x2="0.5" y2="315.5" stroke="#d9302a"/></g>
<line x1="876.5" y1="0" x2="876.5" y2="630" stroke="#000"/>
<g><line x1="877" y1="32.5" x2="881" y2="32.5" stroke="#8a8a8a"/>
<line x1="877" y1="72.5" x2="881" y2="72.5" stroke="#8a8a8a"/>
<line x1="877" y1="112.5" x2="881" y2="112.5" stroke="#8a8a8a"/>
<line x1="877" y1="152.5" x2="881" y2="152.5" stroke="#8a8a8a"/>
<line x1="877" y1="192.5" x2="881" y2="192.5" stroke="#8a8a8a"/>
<line x1="877" y1="232.5" x2="881" y2="232.5" stroke="#8a8a8a"/>
<line x1="877" y1="272.5" x2="881" y2="272.5" stroke="#8a8a8a"/>
<line x1="877" y1="313.5" x2="881" y2="313.5" stroke="#8a8a8a"/>
<line x1="877" y1="353.5" x2="881" y2="353.5" stroke="#8a8a8a"/>
<line x1="877" y1="393.5" x2="881" y2="393.5" stroke="#8a8a8a"/>
<line x1="877" y1="433.5" x2="881" y2="433.5" stroke="#8a8a8a"/>
<line x1="877" y1="473.5" x2="881" y2="473.5" stroke="#8a8a8a"/>
<line x1="877" y1="513.5" x2="881" y2="513.5" stroke="#8a8a8a"/>
<line x1="877" y1="553.5" x2="881" y2="553.5" stroke="#8a8a8a"/>
<line x1="877" y1="594.5" x2="881" y2="594.5" stroke="#8a8a8a"/>
<line x1="0.5" y1="627" x2="0.5" y2="630" stroke="#8a8a8a"/>
<line x1="101.5" y1="627" x2="101.5" y2="630" stroke="#8a8a8a"/>
<line x1="206.5" y1="627" x2="206.5" y2="630" stroke="#8a8a8a"/>
<line x1="312.5" y1="627" x2="312.5" y2="630" stroke="#8a8a8a"/>
<line x1="416.5" y1="627" x2="416.5" y2="630" stroke="#8a8a8a"/>
<line x1="521.5" y1="627" x2="521.5" y2="630" stroke="#8a8a8a"/>
<line x1="621.5" y1="627" x2="621.5" y2="630" stroke="#8a8a8a"/>
<line x1="726.5" y1="627" x2="726.5" y2="630" stroke="#8a8a8a"/>
<line x1="828.5" y1="627" x2="828.5" y2="630" stroke="#8a8a8a"/></g>
<g class="yl"><g transform="translate(887.3,35.5) scale(0.9,1)"><text x="0" y="0" textLength="41.44" lengthAdjust="spacing">80,000</text></g><g transform="translate(887.3,75.5) scale(0.9,1)"><text x="0" y="0" textLength="41.44" lengthAdjust="spacing">78,000</text></g><g transform="translate(887.3,115.5) scale(0.9,1)"><text x="0" y="0" textLength="41.44" lengthAdjust="spacing">76,000</text></g><g transform="translate(887.3,155.5) scale(0.9,1)"><text x="0" y="0" textLength="41.44" lengthAdjust="spacing">74,000</text></g><g transform="translate(887.3,195.5) scale(0.9,1)"><text x="0" y="0" textLength="41.44" lengthAdjust="spacing">72,000</text></g><g transform="translate(887.3,235.5) scale(0.9,1)"><text x="0" y="0" textLength="41.44" lengthAdjust="spacing">70,000</text></g><g transform="translate(887.3,275.5) scale(0.9,1)"><text x="0" y="0" textLength="41.44" lengthAdjust="spacing">68,000</text></g><g transform="translate(887.3,316.5) scale(0.9,1)"><text x="0" y="0" textLength="41.44" lengthAdjust="spacing">66,000</text></g><g transform="translate(887.3,356.5) scale(0.9,1)"><text x="0" y="0" textLength="41.44" lengthAdjust="spacing">64,000</text></g><g transform="translate(887.3,396.5) scale(0.9,1)"><text x="0" y="0" textLength="41.44" lengthAdjust="spacing">62,000</text></g><g transform="translate(887.3,436.5) scale(0.9,1)"><text x="0" y="0" textLength="41.44" lengthAdjust="spacing">60,000</text></g><g transform="translate(887.3,476.5) scale(0.9,1)"><text x="0" y="0" textLength="41.44" lengthAdjust="spacing">58,000</text></g><g transform="translate(887.3,516.5) scale(0.9,1)"><text x="0" y="0" textLength="41.44" lengthAdjust="spacing">56,000</text></g><g transform="translate(887.3,556.5) scale(0.9,1)"><text x="0" y="0" textLength="41.44" lengthAdjust="spacing">54,000</text></g><g transform="translate(887.3,597.5) scale(0.9,1)"><text x="0" y="0" textLength="41.44" lengthAdjust="spacing">52,000</text></g></g>
<g class="xl"><g transform="translate(4.5,624) scale(0.92,1)"><text x="0" y="0" textLength="17.00" lengthAdjust="spacing">'16</text></g><g transform="translate(101.5,624) scale(0.92,1)"><text x="0" y="0" textLength="20.29" lengthAdjust="spacing" text-anchor="middle">Apr</text></g><g transform="translate(206.5,624) scale(0.92,1)"><text x="0" y="0" textLength="16.67" lengthAdjust="spacing" text-anchor="middle">Jul</text></g><g transform="translate(312.5,624) scale(0.92,1)"><text x="0" y="0" textLength="20.29" lengthAdjust="spacing" text-anchor="middle">Okt</text></g><g transform="translate(416.5,624) scale(0.92,1)"><text x="0" y="0" textLength="41.65" lengthAdjust="spacing" text-anchor="middle">Jan '17</text></g><g transform="translate(521.5,624) scale(0.92,1)"><text x="0" y="0" textLength="20.29" lengthAdjust="spacing" text-anchor="middle">Apr</text></g><g transform="translate(621.5,624) scale(0.92,1)"><text x="0" y="0" textLength="16.67" lengthAdjust="spacing" text-anchor="middle">Jul</text></g><g transform="translate(726.5,624) scale(0.92,1)"><text x="0" y="0" textLength="20.29" lengthAdjust="spacing" text-anchor="middle">Okt</text></g><g transform="translate(828.5,624) scale(0.92,1)"><text x="0" y="0" textLength="41.65" lengthAdjust="spacing" text-anchor="middle">Jan '18</text></g></g>
<polygon points="876,329.5 883.5,320 930,320 930,339 883.5,339" fill="#6abf3c"/>
<g style="font-size:12px;fill:#000"><g transform="translate(887.5,334) scale(0.9,1)"><text x="0" y="0" textLength="42.22" lengthAdjust="spacing">65,192</text></g></g>
<g class="leg">
<rect x="5" y="5" width="407" height="16" fill="rgba(255,255,255,0.027)"/>
<rect x="5" y="21" width="227" height="16" fill="rgba(255,255,255,0.027)"/>
<g fill="none" stroke="#6abf3c" stroke-width="1">
<line x1="7.5" y1="14" x2="7.5" y2="18"/><rect x="6.5" y="9.5" width="2" height="4"/>
<line x1="11.5" y1="7" x2="11.5" y2="11"/><rect x="10.5" y="11.5" width="2" height="4"/><line x1="11.5" y1="16" x2="11.5" y2="18"/>
<line x1="15.5" y1="9" x2="15.5" y2="13"/><rect x="14.5" y="13.5" width="2" height="4"/>
</g>
<g fill="none" stroke="#fff" stroke-width="1.1">
<circle cx="12.4" cy="28.5" r="5.1"/>
<polyline points="12.4,25.3 12.4,28.6 14.6,30.4"/>
</g>
<g fill="#6abf3c"><g transform="translate(22.2,17) scale(0.9,1)"><text x="0" y="0" textLength="194.67" lengthAdjust="spacing">Fresenius SE &amp; Co. KGaA (L&amp;S, bid)</text></g>
<g transform="translate(203.3,17) scale(0.9,1)"><text x="0" y="0" textLength="11.78" lengthAdjust="spacing">O:</text></g>
<g transform="translate(217.2,17) scale(0.9,1)"><text x="0" y="0" textLength="37.11" lengthAdjust="spacing">64,078</text></g>
<g transform="translate(256.2,17) scale(0.9,1)"><text x="0" y="0" textLength="10.67" lengthAdjust="spacing">H:</text></g>
<g transform="translate(269.4,17) scale(0.9,1)"><text x="0" y="0" textLength="37.11" lengthAdjust="spacing">65,763</text></g>
<g transform="translate(308.0,17) scale(0.9,1)"><text x="0" y="0" textLength="10.22" lengthAdjust="spacing">L:</text></g>
<g transform="translate(320.8,17) scale(0.9,1)"><text x="0" y="0" textLength="37.11" lengthAdjust="spacing">64,003</text></g>
<g transform="translate(359.3,17) scale(0.9,1)"><text x="0" y="0" textLength="10.89" lengthAdjust="spacing">C:</text></g>
<g transform="translate(372.3,17) scale(0.9,1)"><text x="0" y="0" textLength="37.11" lengthAdjust="spacing">65,192</text></g></g>
<g fill="#fff"><g transform="translate(22.5,32.7) scale(0.9,1)"><text x="0" y="0" textLength="131.33" lengthAdjust="spacing">04.01.2016 - 04.01.2018</text></g><g transform="translate(149.4,32.7) scale(0.9,1)"><text x="0" y="0" textLength="85.33" lengthAdjust="spacing">(2 Jahre, 1 Tag)</text></g></g>
</g>
</svg>
</body></html>
